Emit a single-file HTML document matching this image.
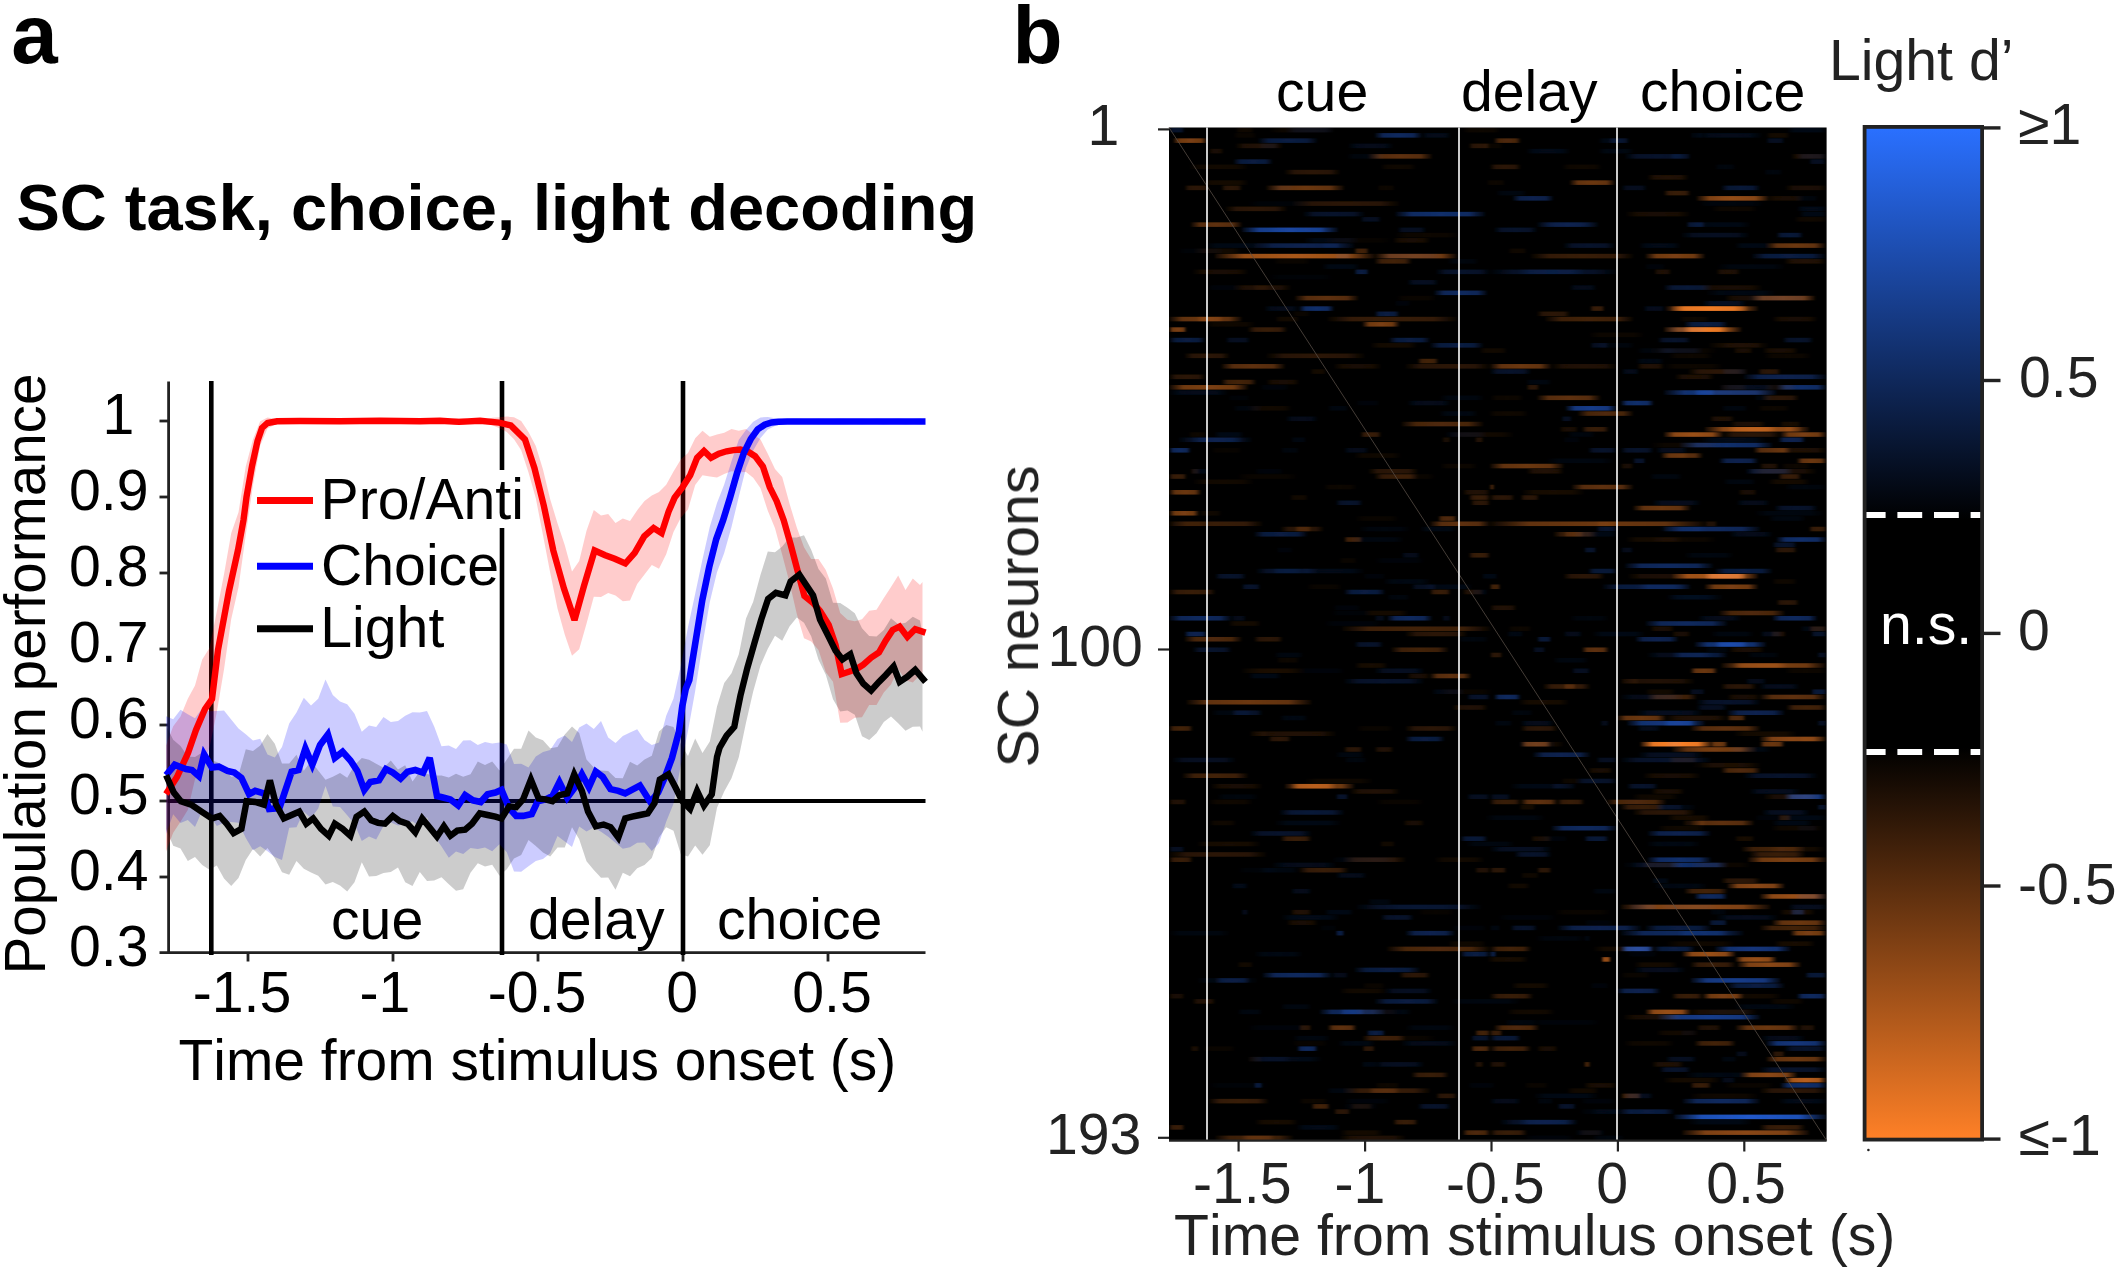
<!DOCTYPE html>
<html><head><meta charset="utf-8"><title>SC task, choice, light decoding</title>
<style>
html,body{margin:0;padding:0;background:#fff;}
body{width:2120px;height:1271px;overflow:hidden;}
svg{display:block;}
text{font-family:"Liberation Sans",Arial,Helvetica,sans-serif;font-kerning:none;}
.b{font-weight:bold;}
.t{font-size:57.2px;}
.g{fill:#222;}
</style></head><body>
<svg width="2120" height="1271" viewBox="0 0 2120 1271">
<rect width="2120" height="1271" fill="#fff"/>

<g id="panelA">
<text class="b" x="11.2" y="63.2" font-size="83.5">a</text>
<text class="b" x="16.4" y="229.5" font-size="65">SC task, choice, light decoding</text>
<g stroke="#222" stroke-width="2.8" fill="none">
<path d="M168.6,381.5V954"/>
<path d="M159.5,952.7H925.5"/>
<path d="M159.5,421H168.6"/>
<path d="M159.5,497H168.6"/>
<path d="M159.5,573H168.6"/>
<path d="M159.5,649H168.6"/>
<path d="M159.5,725H168.6"/>
<path d="M159.5,801H168.6"/>
<path d="M159.5,877H168.6"/>
<path d="M248,952.7V961.5"/>
<path d="M393,952.7V961.5"/>
<path d="M538,952.7V961.5"/>
<path d="M683,952.7V961.5"/>
<path d="M828,952.7V961.5"/>
</g>
<g stroke="#000" fill="none">
<path d="M211.3,381V955" stroke-width="4.6"/>
<path d="M502,381V955" stroke-width="4.6"/>
<path d="M683,381V955" stroke-width="4.6"/>
<path d="M168,801H925.5" stroke-width="4.2"/>
</g>
<path d="M166.0,745.5 L173.2,726.3 L180.5,716.4 L187.8,698.8 L195.0,685.6 L202.2,659.4 L209.5,647.9 L216.8,611.4 L224.0,574.2 L231.2,533.2 L238.5,512.2 L245.8,466.3 L253.0,439.2 L260.2,421.3 L267.5,417.6 L274.8,418.7 L282.0,419.5 L289.2,419.8 L296.5,420.2 L303.8,420.5 L311.0,420.0 L318.2,420.0 L325.5,419.7 L332.8,419.4 L340.0,419.3 L347.2,419.8 L354.5,420.1 L361.8,421.0 L369.0,420.9 L376.2,420.8 L383.5,420.8 L390.8,420.9 L398.0,420.4 L405.2,419.8 L412.5,419.4 L419.8,419.2 L427.0,420.1 L434.2,420.9 L441.5,420.8 L448.8,419.3 L456.0,418.2 L463.2,418.3 L470.5,419.3 L477.8,420.8 L485.0,419.6 L492.2,417.8 L499.5,417.3 L506.8,416.6 L514.0,417.2 L521.2,420.9 L528.5,431.9 L535.8,445.9 L543.0,469.4 L550.2,499.2 L557.5,523.3 L564.8,545.3 L572.0,571.6 L579.2,561.1 L586.5,530.8 L593.8,510.1 L601.0,515.4 L608.2,513.9 L615.5,522.9 L622.8,518.4 L630.0,521.1 L637.2,510.2 L644.5,501.0 L651.8,495.4 L659.0,492.1 L666.2,484.7 L673.5,471.4 L680.8,459.6 L688.0,453.1 L695.2,438.3 L702.5,430.7 L709.8,436.7 L717.0,434.6 L724.2,432.7 L731.5,429.0 L738.8,430.8 L746.0,428.9 L753.2,434.5 L760.5,439.6 L767.8,453.7 L775.0,469.1 L782.2,477.1 L789.5,503.6 L796.8,527.5 L804.0,547.2 L811.2,558.9 L818.5,559.1 L825.8,569.9 L833.0,588.6 L840.2,613.1 L847.5,619.8 L854.8,621.2 L862.0,619.2 L869.2,610.8 L876.5,609.7 L883.8,597.9 L891.0,586.9 L898.2,575.4 L905.5,590.0 L912.8,578.4 L920.0,585.0 L922.5,582.0 L922.5,683.1 L920.0,675.0 L912.8,682.4 L905.5,680.2 L898.2,669.1 L891.0,684.5 L883.8,692.4 L876.5,705.1 L869.2,705.1 L862.0,717.2 L854.8,717.7 L847.5,722.4 L840.2,722.7 L833.0,681.7 L825.8,672.3 L818.5,650.1 L811.2,641.5 L804.0,638.3 L796.8,614.0 L789.5,582.6 L782.2,554.7 L775.0,528.3 L767.8,510.8 L760.5,488.3 L753.2,477.8 L746.0,472.0 L738.8,472.3 L731.5,471.2 L724.2,474.1 L717.0,477.6 L709.8,476.6 L702.5,475.3 L695.2,485.0 L688.0,509.5 L680.8,517.7 L673.5,531.9 L666.2,554.3 L659.0,568.7 L651.8,564.9 L644.5,574.4 L637.2,584.1 L630.0,600.4 L622.8,601.3 L615.5,595.4 L608.2,593.0 L601.0,597.0 L593.8,596.8 L586.5,623.7 L579.2,649.3 L572.0,655.8 L564.8,634.7 L557.5,608.5 L550.2,572.8 L543.0,535.2 L535.8,498.3 L528.5,472.4 L521.2,450.3 L514.0,439.2 L506.8,432.0 L499.5,428.2 L492.2,425.2 L485.0,422.9 L477.8,420.8 L470.5,423.4 L463.2,424.6 L456.0,425.0 L448.8,423.4 L441.5,420.8 L434.2,420.9 L427.0,422.3 L419.8,423.2 L412.5,422.9 L405.2,422.5 L398.0,421.6 L390.8,420.9 L383.5,420.8 L376.2,420.8 L369.0,420.9 L361.8,421.0 L354.5,422.0 L347.2,422.5 L340.0,423.0 L332.8,422.7 L325.5,422.6 L318.2,422.2 L311.0,422.0 L303.8,421.5 L296.5,421.9 L289.2,422.4 L282.0,423.1 L274.8,424.7 L267.5,428.4 L260.2,445.5 L253.0,484.9 L245.8,534.8 L238.5,587.3 L231.2,619.2 L224.0,669.4 L216.8,712.3 L209.5,747.8 L202.2,766.4 L195.0,779.3 L187.8,810.0 L180.5,821.7 L173.2,832.8 L166.0,851.6Z" fill="#ff0000" fill-opacity="0.2"/>
<path d="M166.0,716.3 L173.2,719.2 L180.5,709.7 L187.8,714.2 L195.0,718.2 L202.2,708.2 L209.5,711.3 L216.8,711.0 L224.0,710.4 L231.2,719.5 L238.5,728.5 L245.8,734.3 L253.0,740.4 L260.2,738.8 L267.5,754.4 L274.8,757.5 L282.0,747.0 L289.2,723.4 L296.5,712.4 L303.8,697.8 L311.0,705.4 L318.2,698.7 L325.5,679.4 L332.8,695.0 L340.0,701.5 L347.2,704.3 L354.5,713.7 L361.8,731.7 L369.0,725.5 L376.2,726.9 L383.5,717.1 L390.8,722.1 L398.0,721.0 L405.2,715.7 L412.5,712.3 L419.8,712.6 L427.0,710.9 L434.2,726.6 L441.5,746.3 L448.8,745.6 L456.0,749.0 L463.2,740.6 L470.5,740.3 L477.8,745.0 L485.0,742.0 L492.2,743.5 L499.5,742.6 L506.8,744.6 L514.0,764.0 L521.2,763.7 L528.5,767.6 L535.8,756.5 L543.0,752.1 L550.2,750.0 L557.5,738.9 L564.8,735.6 L572.0,742.1 L579.2,727.6 L586.5,723.4 L593.8,729.1 L601.0,721.1 L608.2,737.4 L615.5,743.0 L622.8,735.9 L630.0,732.5 L637.2,729.2 L644.5,740.0 L651.8,745.0 L659.0,742.4 L666.2,715.7 L673.5,698.4 L680.8,665.7 L688.0,627.1 L695.2,593.7 L702.5,559.2 L709.8,526.7 L717.0,503.1 L724.2,484.6 L731.5,461.3 L738.8,439.7 L746.0,429.9 L753.2,421.8 L760.5,417.4 L767.8,417.1 L775.0,418.2 L782.2,419.0 L789.5,418.8 L796.8,418.6 L804.0,419.0 L811.2,418.9 L818.5,418.8 L825.8,418.9 L833.0,419.0 L840.2,418.5 L847.5,418.8 L854.8,418.7 L862.0,418.8 L869.2,419.0 L876.5,418.6 L883.8,418.8 L891.0,418.7 L898.2,418.5 L905.5,419.1 L912.8,419.0 L920.0,418.5 L922.5,419.1 L922.5,424.2 L920.0,424.3 L912.8,424.1 L905.5,424.4 L898.2,424.1 L891.0,424.1 L883.8,424.5 L876.5,424.1 L869.2,424.0 L862.0,424.2 L854.8,423.9 L847.5,424.2 L840.2,424.4 L833.0,424.5 L825.8,424.3 L818.5,424.2 L811.2,424.0 L804.0,424.0 L796.8,424.1 L789.5,424.0 L782.2,424.3 L775.0,426.0 L767.8,429.6 L760.5,437.9 L753.2,450.4 L746.0,468.1 L738.8,496.7 L731.5,527.1 L724.2,552.9 L717.0,572.3 L709.8,602.1 L702.5,644.7 L695.2,690.9 L688.0,730.9 L680.8,765.3 L673.5,803.7 L666.2,821.8 L659.0,843.0 L651.8,851.1 L644.5,842.5 L637.2,842.8 L630.0,847.3 L622.8,848.7 L615.5,842.7 L608.2,836.7 L601.0,831.8 L593.8,827.4 L586.5,831.5 L579.2,826.6 L572.0,846.9 L564.8,841.6 L557.5,836.0 L550.2,853.2 L543.0,859.0 L535.8,860.9 L528.5,866.2 L521.2,871.8 L514.0,871.5 L506.8,852.3 L499.5,844.2 L492.2,851.2 L485.0,847.4 L477.8,848.9 L470.5,848.0 L463.2,854.0 L456.0,851.6 L448.8,857.7 L441.5,846.6 L434.2,835.9 L427.0,817.1 L419.8,827.2 L412.5,821.2 L405.2,824.1 L398.0,825.5 L390.8,822.4 L383.5,825.9 L376.2,839.4 L369.0,836.4 L361.8,841.0 L354.5,823.9 L347.2,815.2 L340.0,807.0 L332.8,806.4 L325.5,785.9 L318.2,808.4 L311.0,818.3 L303.8,811.5 L296.5,827.3 L289.2,827.8 L282.0,859.9 L274.8,857.1 L267.5,851.3 L260.2,846.3 L253.0,850.2 L245.8,837.9 L238.5,822.7 L231.2,821.9 L224.0,822.7 L216.8,826.1 L209.5,815.0 L202.2,810.7 L195.0,827.1 L187.8,819.9 L180.5,823.0 L173.2,814.3 L166.0,834.0Z" fill="#0000ff" fill-opacity="0.2"/>
<path d="M166.0,725.5 L173.2,739.7 L180.5,746.0 L187.8,756.5 L195.0,757.1 L202.2,752.6 L209.5,759.5 L216.8,761.9 L224.0,765.9 L231.2,776.7 L238.5,775.3 L245.8,749.2 L253.0,751.1 L260.2,745.6 L267.5,734.1 L274.8,743.7 L282.0,763.5 L289.2,763.6 L296.5,754.8 L303.8,770.8 L311.0,761.1 L318.2,770.5 L325.5,779.8 L332.8,776.7 L340.0,773.0 L347.2,777.7 L354.5,765.3 L361.8,757.9 L369.0,759.7 L376.2,763.8 L383.5,767.7 L390.8,760.6 L398.0,769.4 L405.2,765.3 L412.5,781.4 L419.8,771.4 L427.0,773.9 L434.2,775.6 L441.5,775.4 L448.8,777.6 L456.0,773.7 L463.2,776.8 L470.5,774.3 L477.8,761.6 L485.0,765.1 L492.2,761.4 L499.5,770.6 L506.8,759.4 L514.0,748.7 L521.2,748.8 L528.5,730.6 L535.8,737.4 L543.0,740.3 L550.2,748.3 L557.5,746.9 L564.8,734.6 L572.0,726.6 L579.2,733.0 L586.5,759.4 L593.8,767.6 L601.0,770.4 L608.2,770.9 L615.5,778.1 L622.8,778.2 L630.0,761.8 L637.2,765.6 L644.5,759.6 L651.8,755.7 L659.0,731.6 L666.2,725.1 L673.5,727.1 L680.8,744.0 L688.0,756.1 L695.2,738.5 L702.5,753.1 L709.8,741.4 L717.0,706.4 L724.2,682.9 L731.5,673.3 L738.8,654.5 L746.0,618.6 L753.2,601.8 L760.5,574.8 L767.8,551.5 L775.0,552.3 L782.2,546.6 L789.5,537.5 L796.8,537.5 L804.0,535.2 L811.2,549.8 L818.5,568.9 L825.8,578.6 L833.0,602.8 L840.2,602.9 L847.5,607.7 L854.8,613.2 L862.0,628.2 L869.2,636.1 L876.5,636.5 L883.8,630.0 L891.0,618.3 L898.2,624.3 L905.5,622.7 L912.8,616.8 L920.0,620.4 L922.5,633.9 L922.5,731.7 L920.0,726.6 L912.8,726.8 L905.5,730.7 L898.2,723.3 L891.0,716.6 L883.8,722.1 L876.5,733.3 L869.2,740.0 L862.0,736.3 L854.8,714.7 L847.5,710.6 L840.2,711.6 L833.0,699.3 L825.8,674.7 L818.5,659.7 L811.2,636.2 L804.0,622.8 L796.8,617.4 L789.5,626.5 L782.2,640.7 L775.0,635.7 L767.8,648.8 L760.5,665.5 L753.2,691.5 L746.0,722.8 L738.8,757.3 L731.5,778.2 L724.2,791.4 L717.0,807.7 L709.8,845.3 L702.5,854.7 L695.2,845.5 L688.0,856.6 L680.8,854.3 L673.5,830.8 L666.2,827.2 L659.0,837.5 L651.8,858.0 L644.5,864.9 L637.2,868.2 L630.0,876.3 L622.8,872.7 L615.5,889.8 L608.2,877.5 L601.0,877.8 L593.8,870.0 L586.5,861.2 L579.2,839.3 L572.0,827.2 L564.8,847.4 L557.5,847.4 L550.2,856.6 L543.0,852.4 L535.8,846.1 L528.5,840.0 L521.2,855.0 L514.0,858.6 L506.8,869.3 L499.5,875.8 L492.2,864.8 L485.0,866.4 L477.8,863.2 L470.5,872.7 L463.2,889.3 L456.0,890.7 L448.8,884.3 L441.5,877.2 L434.2,880.5 L427.0,880.9 L419.8,872.1 L412.5,886.1 L405.2,882.3 L398.0,867.4 L390.8,872.0 L383.5,872.9 L376.2,876.1 L369.0,876.5 L361.8,862.2 L354.5,882.3 L347.2,891.5 L340.0,885.4 L332.8,882.0 L325.5,884.5 L318.2,875.8 L311.0,872.5 L303.8,868.8 L296.5,860.9 L289.2,874.8 L282.0,872.3 L274.8,858.2 L267.5,848.1 L260.2,856.4 L253.0,849.0 L245.8,860.1 L238.5,878.0 L231.2,886.1 L224.0,878.6 L216.8,865.6 L209.5,869.8 L202.2,864.9 L195.0,857.0 L187.8,861.0 L180.5,848.5 L173.2,845.8 L166.0,828.9Z" fill="#000" fill-opacity="0.2"/>
<path d="M166.0,794.0 L177.0,777.0 L188.0,753.0 L196.0,730.0 L205.0,709.0 L212.0,699.0 L218.0,650.0 L229.0,591.0 L238.0,550.0 L243.5,520.0 L246.5,497.0 L252.0,466.0 L257.5,441.0 L262.0,428.0 L267.5,423.0 L277.0,421.3 L300.0,421.0 L340.0,421.2 L380.0,420.8 L420.0,421.3 L440.0,420.7 L458.9,421.9 L480.1,420.7 L499.0,422.6 L510.8,425.4 L525.0,439.6 L534.4,467.9 L543.8,505.6 L553.3,550.5 L563.9,588.3 L574.5,620.1 L584.0,585.9 L594.6,550.5 L605.2,555.2 L614.7,558.8 L625.3,563.5 L634.7,552.9 L644.2,536.3 L653.6,528.1 L661.6,533.2 L668.6,511.6 L674.6,497.7 L682.4,487.3 L690.2,475.2 L697.1,457.9 L704.0,451.0 L711.0,457.9 L718.8,453.6 L726.6,451.3 L733.5,450.1 L740.4,449.6 L748.2,451.8 L755.1,456.2 L762.9,466.6 L769.8,487.3 L776.7,501.2 L783.7,520.2 L790.6,544.4 L797.5,570.4 L804.4,596.0 L813.1,603.0 L820.0,611.0 L828.7,625.0 L835.6,645.0 L841.7,674.2 L849.5,671.6 L856.4,669.0 L863.3,664.6 L871.1,657.7 L878.9,652.5 L885.8,640.4 L892.7,630.0 L899.6,626.6 L907.4,636.9 L915.2,629.1 L925.5,632.6" fill="none" stroke="#f00" stroke-width="6.4" stroke-linejoin="miter" stroke-miterlimit="3"/>
<path d="M166.1,775.2 L174.7,764.8 L186.0,769.1 L192.0,770.0 L198.9,776.1 L204.1,754.4 L211.9,767.4 L218.9,766.6 L227.5,770.9 L234.4,772.6 L241.4,777.8 L249.1,794.2 L255.2,790.8 L263.9,793.4 L269.1,809.0 L279.4,808.1 L291.6,771.7 L298.5,770.0 L305.4,748.4 L312.3,764.8 L320.1,744.9 L327.9,734.5 L334.8,757.9 L342.6,751.8 L350.4,760.5 L357.3,770.9 L364.3,789.9 L370.3,782.1 L379.0,780.4 L385.9,769.1 L392.8,772.6 L400.6,778.7 L407.5,771.7 L415.3,770.0 L423.1,772.6 L429.7,757.9 L437.0,796.0 L443.9,797.7 L450.4,799.4 L458.2,805.5 L465.1,795.1 L472.9,800.3 L480.7,802.0 L487.6,794.2 L495.4,792.5 L501.5,789.9 L509.2,808.1 L516.2,815.9 L523.1,815.9 L531.7,814.1 L537.8,801.2 L545.6,799.4 L552.5,796.0 L559.4,782.1 L567.2,797.7 L575.0,787.3 L581.9,774.3 L588.9,787.3 L595.8,771.7 L602.7,776.9 L610.5,789.1 L618.3,790.8 L625.2,793.4 L639.9,785.6 L650.3,802.0 L658.1,792.5 L665.0,776.9 L672.0,757.9 L678.9,731.9 L682.3,706.0 L685.8,688.7 L689.3,680.0 L702.3,600.0 L709.2,567.0 L716.2,539.3 L723.1,520.2 L730.0,497.7 L736.9,473.5 L743.9,452.7 L750.8,438.9 L757.7,429.3 L764.6,424.7 L771.6,422.4 L778.5,421.7 L787.1,421.5 L925.5,421.5" fill="none" stroke="#00f" stroke-width="6.6" stroke-linejoin="miter" stroke-miterlimit="3"/>
<path d="M166.1,775.2 L173.8,792.5 L180.8,801.2 L191.2,804.6 L201.5,811.6 L211.9,818.5 L219.7,815.9 L226.6,823.7 L233.6,833.2 L241.4,828.9 L246.6,801.2 L255.2,802.0 L263.9,804.6 L269.9,780.4 L276.0,804.6 L283.8,818.5 L291.6,815.0 L299.3,811.6 L306.3,823.7 L313.2,818.5 L321.0,828.9 L328.8,835.8 L334.8,823.7 L342.6,828.9 L350.4,835.8 L356.5,816.7 L364.3,811.6 L371.2,820.2 L378.1,822.8 L385.0,823.7 L392.8,815.9 L399.7,821.1 L407.5,823.7 L415.3,832.3 L422.2,818.5 L429.2,827.1 L437.0,836.7 L443.9,826.3 L450.4,835.8 L457.3,830.6 L465.1,829.7 L472.0,823.7 L479.8,813.3 L487.6,815.0 L495.4,816.7 L501.5,818.5 L509.2,806.4 L516.2,807.2 L523.1,799.4 L530.9,779.5 L538.7,798.6 L545.6,799.4 L552.5,801.2 L559.4,795.1 L567.2,793.4 L574.2,774.3 L581.9,790.8 L588.0,811.6 L595.8,826.3 L603.6,824.5 L610.5,827.1 L618.3,837.5 L625.2,818.5 L632.1,816.7 L639.9,815.0 L647.7,813.3 L654.6,802.9 L659.8,779.5 L668.5,774.3 L675.4,787.3 L682.3,801.2 L690.1,809.0 L697.1,790.8 L704.0,805.5 L711.8,794.2 L717.0,757.0 L719.6,747.7 L726.6,735.6 L734.3,726.9 L736.9,713.1 L740.4,695.8 L747.3,668.1 L754.2,643.9 L761.2,619.6 L768.1,598.9 L775.9,592.8 L785.4,595.4 L790.6,581.5 L799.3,574.6 L806.2,585.0 L813.1,595.4 L820.0,619.6 L828.7,636.9 L835.6,650.8 L842.5,659.4 L850.3,654.2 L856.4,673.3 L863.3,683.7 L871.1,690.6 L878.9,681.9 L885.8,675.0 L893.6,666.4 L899.6,681.9 L907.4,676.7 L915.2,669.8 L925.5,681.9" fill="none" stroke="#000" stroke-width="6.4" stroke-linejoin="miter" stroke-miterlimit="3"/>
<rect x="318" y="470" width="208" height="58" fill="#fff"/>
<path d="M257,500.6H313" stroke="#f00" stroke-width="7"/>
<path d="M257,566.3H313" stroke="#00f" stroke-width="7"/>
<path d="M257,628.8H313" stroke="#000" stroke-width="7"/>
<text class="t" x="320.5" y="519.2">Pro/Anti</text>
<text class="t" x="321" y="584.7">Choice</text>
<text class="t" x="320.3" y="646.6">Light</text>
<text class="t" x="102.5" y="434">1</text>
<text class="t" x="69" y="510.2">0.9</text>
<text class="t" x="69" y="586.2">0.8</text>
<text class="t" x="69" y="662.2">0.7</text>
<text class="t" x="69" y="738.2">0.6</text>
<text class="t" x="69" y="814.2">0.5</text>
<text class="t" x="69" y="890.2">0.4</text>
<text class="t" x="69" y="966">0.3</text>
<text class="t" x="192.7" y="1012.4">-1.5</text>
<text class="t" x="359.5" y="1012.4">-1</text>
<text class="t" x="487.8" y="1012.4">-0.5</text>
<text class="t" x="666.2" y="1012.4">0</text>
<text class="t" x="792.3" y="1012.4">0.5</text>
<text class="t" x="331" y="939">cue</text>
<text class="t" x="528" y="939">delay</text>
<text class="t" x="717" y="939">choice</text>
<text class="t" x="178.6" y="1079.6" style="font-size:56.9px">Time from stimulus onset (s)</text>
<text class="t" style="font-size:56.6px" transform="translate(45.3,974.5) rotate(-90)">Population performance</text>
</g>
<g id="panelB">
<text class="b" x="1012.5" y="62.5" font-size="82">b</text>
<rect x="1169" y="127.5" width="657.5999999999999" height="1013.0" fill="#000"/>
<defs>
<clipPath id="hmclip"><rect x="1169" y="127.5" width="657.6" height="1013"/></clipPath>
<linearGradient id="sb" x1="0" y1="0" x2="1" y2="0"><stop offset="0" stop-color="#2a70ff" stop-opacity="0.1"/><stop offset="0.18" stop-color="#2a70ff" stop-opacity="0.9"/><stop offset="0.5" stop-color="#2a70ff"/><stop offset="0.82" stop-color="#2a70ff" stop-opacity="0.9"/><stop offset="1" stop-color="#2a70ff" stop-opacity="0.1"/></linearGradient>
<linearGradient id="so" x1="0" y1="0" x2="1" y2="0"><stop offset="0" stop-color="#ff8428" stop-opacity="0.1"/><stop offset="0.18" stop-color="#ff8428" stop-opacity="0.9"/><stop offset="0.5" stop-color="#ff8428"/><stop offset="0.82" stop-color="#ff8428" stop-opacity="0.9"/><stop offset="1" stop-color="#ff8428" stop-opacity="0.1"/></linearGradient>
</defs>
<filter id="sblur" x="-2%" y="-2%" width="104%" height="104%"><feGaussianBlur stdDeviation="1.1 0.6"/></filter><g id="streaks" filter="url(#sblur)" clip-path="url(#hmclip)">
<rect x="1169.2" y="127.85" width="15.3" height="4.55" fill="url(#sb)" opacity="0.17"/>
<rect x="1173.3" y="138.35" width="33.8" height="4.55" fill="url(#so)" opacity="0.48"/>
<rect x="1235.7" y="127.85" width="18.4" height="4.55" fill="url(#so)" opacity="0.06"/>
<rect x="1286.8" y="127.85" width="47.1" height="4.55" fill="url(#sb)" opacity="0.10"/>
<rect x="1258.2" y="138.35" width="59.3" height="4.55" fill="url(#sb)" opacity="0.26"/>
<rect x="1374.8" y="133.10" width="47.1" height="4.55" fill="url(#sb)" opacity="0.37"/>
<rect x="1421.9" y="133.10" width="28.6" height="4.55" fill="url(#sb)" opacity="0.10"/>
<rect x="1235.7" y="143.60" width="47.1" height="4.55" fill="url(#so)" opacity="0.13"/>
<rect x="1348.2" y="143.60" width="45.0" height="4.55" fill="url(#sb)" opacity="0.10"/>
<rect x="1468.9" y="143.60" width="21.1" height="4.55" fill="url(#so)" opacity="0.17"/>
<rect x="1209.1" y="148.84" width="14.3" height="4.55" fill="url(#so)" opacity="0.10"/>
<rect x="1368.7" y="154.09" width="63.4" height="4.55" fill="url(#so)" opacity="0.37"/>
<rect x="1233.6" y="159.34" width="38.9" height="4.55" fill="url(#sb)" opacity="0.26"/>
<rect x="1380.9" y="164.59" width="34.8" height="4.55" fill="url(#so)" opacity="0.06"/>
<rect x="1284.8" y="169.84" width="55.2" height="4.55" fill="url(#so)" opacity="0.17"/>
<rect x="1184.5" y="185.59" width="24.5" height="4.55" fill="url(#so)" opacity="0.17"/>
<rect x="1221.4" y="185.59" width="20.5" height="4.55" fill="url(#so)" opacity="0.17"/>
<rect x="1266.4" y="185.59" width="77.7" height="4.55" fill="url(#so)" opacity="0.42"/>
<rect x="1293.0" y="201.33" width="106.4" height="4.55" fill="url(#so)" opacity="0.17"/>
<rect x="1225.5" y="206.58" width="61.4" height="4.55" fill="url(#so)" opacity="0.17"/>
<rect x="1303.2" y="211.83" width="61.4" height="4.55" fill="url(#sb)" opacity="0.17"/>
<rect x="1395.3" y="211.83" width="90.0" height="4.55" fill="url(#sb)" opacity="0.42"/>
<rect x="1360.5" y="217.08" width="20.5" height="4.55" fill="url(#sb)" opacity="0.13"/>
<rect x="1190.7" y="222.33" width="51.1" height="4.55" fill="url(#so)" opacity="0.37"/>
<rect x="1241.8" y="227.58" width="96.2" height="4.55" fill="url(#sb)" opacity="0.60"/>
<rect x="1397.3" y="227.58" width="28.6" height="4.55" fill="url(#sb)" opacity="0.13"/>
<rect x="1393.2" y="238.07" width="36.8" height="4.55" fill="url(#so)" opacity="0.10"/>
<rect x="1254.1" y="243.32" width="100.2" height="4.55" fill="url(#sb)" opacity="0.31"/>
<rect x="1215.2" y="253.82" width="159.6" height="4.55" fill="url(#so)" opacity="0.66"/>
<rect x="1374.8" y="253.82" width="81.8" height="4.55" fill="url(#so)" opacity="0.48"/>
<rect x="1354.4" y="248.57" width="14.3" height="4.55" fill="url(#so)" opacity="0.26"/>
<rect x="1374.8" y="259.07" width="36.8" height="4.55" fill="url(#so)" opacity="0.26"/>
<rect x="1192.7" y="269.57" width="55.2" height="4.55" fill="url(#so)" opacity="0.10"/>
<rect x="1354.4" y="269.57" width="14.3" height="4.55" fill="url(#sb)" opacity="0.26"/>
<rect x="1436.2" y="269.57" width="53.8" height="4.55" fill="url(#sb)" opacity="0.17"/>
<rect x="1407.5" y="280.06" width="30.7" height="4.55" fill="url(#sb)" opacity="0.13"/>
<rect x="1233.6" y="285.31" width="57.3" height="4.55" fill="url(#so)" opacity="0.13"/>
<rect x="1434.1" y="290.56" width="53.2" height="4.55" fill="url(#sb)" opacity="0.37"/>
<rect x="1295.0" y="295.81" width="63.4" height="4.55" fill="url(#so)" opacity="0.37"/>
<rect x="1299.1" y="306.31" width="34.8" height="4.55" fill="url(#sb)" opacity="0.42"/>
<rect x="1264.3" y="306.31" width="34.8" height="4.55" fill="url(#sb)" opacity="0.10"/>
<rect x="1169.2" y="316.80" width="72.6" height="4.55" fill="url(#so)" opacity="0.42"/>
<rect x="1196.8" y="316.80" width="26.6" height="4.55" fill="url(#so)" opacity="0.17"/>
<rect x="1327.8" y="316.80" width="128.9" height="4.55" fill="url(#so)" opacity="0.22"/>
<rect x="1374.8" y="311.55" width="24.5" height="4.55" fill="url(#sb)" opacity="0.26"/>
<rect x="1362.5" y="322.05" width="36.8" height="4.55" fill="url(#so)" opacity="0.48"/>
<rect x="1169.2" y="327.30" width="17.4" height="4.55" fill="url(#so)" opacity="0.48"/>
<rect x="1248.0" y="327.30" width="38.9" height="4.55" fill="url(#so)" opacity="0.22"/>
<rect x="1169.2" y="337.80" width="35.8" height="4.55" fill="url(#sb)" opacity="0.26"/>
<rect x="1225.5" y="337.80" width="24.5" height="4.55" fill="url(#sb)" opacity="0.13"/>
<rect x="1389.1" y="337.80" width="40.9" height="4.55" fill="url(#sb)" opacity="0.26"/>
<rect x="1430.0" y="343.05" width="53.2" height="4.55" fill="url(#sb)" opacity="0.26"/>
<rect x="1184.5" y="353.54" width="45.0" height="4.55" fill="url(#so)" opacity="0.17"/>
<rect x="1266.4" y="353.54" width="98.2" height="4.55" fill="url(#so)" opacity="0.17"/>
<rect x="1221.4" y="364.04" width="63.4" height="4.55" fill="url(#so)" opacity="0.37"/>
<rect x="1333.9" y="364.04" width="47.1" height="4.55" fill="url(#so)" opacity="0.10"/>
<rect x="1405.5" y="364.04" width="84.5" height="4.55" fill="url(#so)" opacity="0.17"/>
<rect x="1417.8" y="358.79" width="20.5" height="4.55" fill="url(#so)" opacity="0.26"/>
<rect x="1169.2" y="374.54" width="35.8" height="4.55" fill="url(#so)" opacity="0.17"/>
<rect x="1494.1" y="138.35" width="26.6" height="4.55" fill="url(#so)" opacity="0.31"/>
<rect x="1608.7" y="138.35" width="20.5" height="4.55" fill="url(#sb)" opacity="0.13"/>
<rect x="1766.2" y="138.35" width="18.4" height="4.55" fill="url(#sb)" opacity="0.13"/>
<rect x="1690.5" y="133.10" width="12.3" height="4.55" fill="url(#sb)" opacity="0.06"/>
<rect x="1625.0" y="154.09" width="65.5" height="4.55" fill="url(#sb)" opacity="0.17"/>
<rect x="1670.0" y="154.09" width="20.5" height="4.55" fill="url(#sb)" opacity="0.10"/>
<rect x="1809.1" y="159.34" width="16.4" height="4.55" fill="url(#sb)" opacity="0.13"/>
<rect x="1490.0" y="164.59" width="30.7" height="4.55" fill="url(#so)" opacity="0.17"/>
<rect x="1715.0" y="164.59" width="20.5" height="4.55" fill="url(#sb)" opacity="0.05"/>
<rect x="1647.5" y="175.09" width="40.9" height="4.55" fill="url(#so)" opacity="0.13"/>
<rect x="1569.8" y="180.34" width="45.0" height="4.55" fill="url(#so)" opacity="0.42"/>
<rect x="1721.2" y="185.59" width="38.9" height="4.55" fill="url(#sb)" opacity="0.22"/>
<rect x="1663.9" y="190.83" width="26.6" height="4.55" fill="url(#so)" opacity="0.22"/>
<rect x="1512.5" y="196.08" width="40.9" height="4.55" fill="url(#sb)" opacity="0.31"/>
<rect x="1496.1" y="190.83" width="30.7" height="4.55" fill="url(#sb)" opacity="0.06"/>
<rect x="1696.6" y="196.08" width="71.6" height="4.55" fill="url(#so)" opacity="0.54"/>
<rect x="1768.2" y="196.08" width="34.8" height="4.55" fill="url(#so)" opacity="0.10"/>
<rect x="1494.1" y="227.58" width="43.0" height="4.55" fill="url(#sb)" opacity="0.17"/>
<rect x="1537.1" y="222.33" width="61.4" height="4.55" fill="url(#sb)" opacity="0.26"/>
<rect x="1686.4" y="222.33" width="18.4" height="4.55" fill="url(#sb)" opacity="0.22"/>
<rect x="1776.4" y="232.82" width="26.6" height="4.55" fill="url(#sb)" opacity="0.22"/>
<rect x="1563.6" y="243.32" width="51.1" height="4.55" fill="url(#sb)" opacity="0.17"/>
<rect x="1766.2" y="243.32" width="59.3" height="4.55" fill="url(#so)" opacity="0.42"/>
<rect x="1508.4" y="248.57" width="18.4" height="4.55" fill="url(#so)" opacity="0.06"/>
<rect x="1530.9" y="253.82" width="102.3" height="4.55" fill="url(#so)" opacity="0.22"/>
<rect x="1645.5" y="253.82" width="59.3" height="4.55" fill="url(#so)" opacity="0.48"/>
<rect x="1751.9" y="253.82" width="73.6" height="4.55" fill="url(#sb)" opacity="0.26"/>
<rect x="1784.6" y="259.07" width="40.9" height="4.55" fill="url(#so)" opacity="0.13"/>
<rect x="1490.0" y="269.57" width="126.8" height="4.55" fill="url(#sb)" opacity="0.17"/>
<rect x="1518.6" y="269.57" width="65.5" height="4.55" fill="url(#sb)" opacity="0.13"/>
<rect x="1569.8" y="285.31" width="26.6" height="4.55" fill="url(#sb)" opacity="0.10"/>
<rect x="1663.9" y="285.31" width="47.1" height="4.55" fill="url(#sb)" opacity="0.22"/>
<rect x="1751.9" y="295.81" width="63.4" height="4.55" fill="url(#so)" opacity="0.48"/>
<rect x="1702.8" y="301.06" width="43.0" height="4.55" fill="url(#sb)" opacity="0.13"/>
<rect x="1665.9" y="306.31" width="92.1" height="4.55" fill="url(#so)" opacity="0.60"/>
<rect x="1671.1" y="306.31" width="76.7" height="4.55" fill="url(#so)" opacity="0.86"/>
<rect x="1590.2" y="306.31" width="14.3" height="4.55" fill="url(#so)" opacity="0.22"/>
<rect x="1537.1" y="311.55" width="32.7" height="4.55" fill="url(#so)" opacity="0.17"/>
<rect x="1545.2" y="316.80" width="88.0" height="4.55" fill="url(#so)" opacity="0.26"/>
<rect x="1772.3" y="316.80" width="45.0" height="4.55" fill="url(#so)" opacity="0.10"/>
<rect x="1684.4" y="322.05" width="43.0" height="4.55" fill="url(#sb)" opacity="0.26"/>
<rect x="1663.9" y="327.30" width="77.7" height="4.55" fill="url(#so)" opacity="0.60"/>
<rect x="1683.3" y="327.30" width="44.0" height="4.55" fill="url(#so)" opacity="0.86"/>
<rect x="1657.8" y="337.80" width="32.7" height="4.55" fill="url(#sb)" opacity="0.17"/>
<rect x="1782.6" y="337.80" width="30.7" height="4.55" fill="url(#sb)" opacity="0.17"/>
<rect x="1590.2" y="343.05" width="18.4" height="4.55" fill="url(#sb)" opacity="0.13"/>
<rect x="1721.2" y="343.05" width="40.9" height="4.55" fill="url(#so)" opacity="0.05"/>
<rect x="1764.1" y="353.54" width="47.1" height="4.55" fill="url(#so)" opacity="0.05"/>
<rect x="1490.0" y="364.04" width="61.4" height="4.55" fill="url(#so)" opacity="0.42"/>
<rect x="1551.4" y="364.04" width="65.5" height="4.55" fill="url(#so)" opacity="0.13"/>
<rect x="1637.3" y="364.04" width="26.6" height="4.55" fill="url(#so)" opacity="0.13"/>
<rect x="1688.4" y="369.29" width="59.3" height="4.55" fill="url(#so)" opacity="0.17"/>
<rect x="1758.0" y="369.29" width="22.5" height="4.55" fill="url(#so)" opacity="0.17"/>
<rect x="1743.7" y="374.54" width="82.9" height="4.55" fill="url(#sb)" opacity="0.31"/>
<rect x="1490.0" y="369.29" width="40.9" height="4.55" fill="url(#sb)" opacity="0.17"/>
<rect x="1221.4" y="379.79" width="34.8" height="4.55" fill="url(#so)" opacity="0.26"/>
<rect x="1266.4" y="379.79" width="32.7" height="4.55" fill="url(#so)" opacity="0.10"/>
<rect x="1169.2" y="385.04" width="78.8" height="4.55" fill="url(#so)" opacity="0.48"/>
<rect x="1169.2" y="390.29" width="58.3" height="4.55" fill="url(#sb)" opacity="0.10"/>
<rect x="1407.5" y="400.78" width="43.0" height="4.55" fill="url(#sb)" opacity="0.10"/>
<rect x="1327.8" y="406.03" width="20.5" height="4.55" fill="url(#sb)" opacity="0.06"/>
<rect x="1285.8" y="416.53" width="31.7" height="4.55" fill="url(#sb)" opacity="0.10"/>
<rect x="1401.4" y="421.78" width="81.8" height="4.55" fill="url(#so)" opacity="0.31"/>
<rect x="1360.5" y="432.27" width="20.5" height="4.55" fill="url(#so)" opacity="0.22"/>
<rect x="1178.4" y="437.52" width="73.6" height="4.55" fill="url(#sb)" opacity="0.17"/>
<rect x="1191.7" y="437.52" width="50.1" height="4.55" fill="url(#sb)" opacity="0.17"/>
<rect x="1442.3" y="437.52" width="8.2" height="4.55" fill="url(#so)" opacity="0.10"/>
<rect x="1475.1" y="437.52" width="8.2" height="4.55" fill="url(#so)" opacity="0.13"/>
<rect x="1169.2" y="448.02" width="21.5" height="4.55" fill="url(#sb)" opacity="0.37"/>
<rect x="1280.7" y="448.02" width="18.4" height="4.55" fill="url(#sb)" opacity="0.05"/>
<rect x="1344.1" y="448.02" width="24.5" height="4.55" fill="url(#sb)" opacity="0.10"/>
<rect x="1368.7" y="469.02" width="49.1" height="4.55" fill="url(#so)" opacity="0.17"/>
<rect x="1374.8" y="474.26" width="43.0" height="4.55" fill="url(#so)" opacity="0.22"/>
<rect x="1169.2" y="474.26" width="17.4" height="4.55" fill="url(#so)" opacity="0.22"/>
<rect x="1190.7" y="469.02" width="8.2" height="4.55" fill="url(#so)" opacity="0.10"/>
<rect x="1323.7" y="484.76" width="32.7" height="4.55" fill="url(#so)" opacity="0.05"/>
<rect x="1169.2" y="490.01" width="31.7" height="4.55" fill="url(#so)" opacity="0.42"/>
<rect x="1462.8" y="490.01" width="27.2" height="4.55" fill="url(#so)" opacity="0.13"/>
<rect x="1468.9" y="495.26" width="21.1" height="4.55" fill="url(#so)" opacity="0.22"/>
<rect x="1471.0" y="500.51" width="19.0" height="4.55" fill="url(#so)" opacity="0.17"/>
<rect x="1335.9" y="500.51" width="26.6" height="4.55" fill="url(#sb)" opacity="0.17"/>
<rect x="1169.2" y="511.01" width="29.7" height="4.55" fill="url(#so)" opacity="0.48"/>
<rect x="1198.9" y="511.01" width="22.5" height="4.55" fill="url(#so)" opacity="0.06"/>
<rect x="1438.2" y="516.25" width="18.4" height="4.55" fill="url(#so)" opacity="0.31"/>
<rect x="1169.2" y="521.50" width="93.1" height="4.55" fill="url(#so)" opacity="0.22"/>
<rect x="1169.2" y="521.50" width="35.8" height="4.55" fill="url(#so)" opacity="0.06"/>
<rect x="1430.0" y="521.50" width="59.9" height="4.55" fill="url(#so)" opacity="0.37"/>
<rect x="1280.7" y="526.75" width="43.0" height="4.55" fill="url(#so)" opacity="0.17"/>
<rect x="1295.0" y="526.75" width="16.4" height="4.55" fill="url(#so)" opacity="0.17"/>
<rect x="1254.1" y="532.00" width="53.2" height="4.55" fill="url(#sb)" opacity="0.26"/>
<rect x="1344.1" y="537.25" width="18.4" height="4.55" fill="url(#so)" opacity="0.26"/>
<rect x="1276.6" y="547.75" width="16.4" height="4.55" fill="url(#sb)" opacity="0.04"/>
<rect x="1401.4" y="553.00" width="18.4" height="4.55" fill="url(#sb)" opacity="0.10"/>
<rect x="1468.9" y="553.00" width="21.1" height="4.55" fill="url(#so)" opacity="0.22"/>
<rect x="1256.2" y="568.74" width="61.4" height="4.55" fill="url(#sb)" opacity="0.17"/>
<rect x="1272.5" y="568.74" width="28.6" height="4.55" fill="url(#sb)" opacity="0.10"/>
<rect x="1215.2" y="573.99" width="30.7" height="4.55" fill="url(#sb)" opacity="0.17"/>
<rect x="1241.8" y="584.49" width="18.4" height="4.55" fill="url(#sb)" opacity="0.17"/>
<rect x="1411.6" y="584.49" width="24.5" height="4.55" fill="url(#sb)" opacity="0.13"/>
<rect x="1169.2" y="589.74" width="46.0" height="4.55" fill="url(#so)" opacity="0.22"/>
<rect x="1344.1" y="589.74" width="40.9" height="4.55" fill="url(#sb)" opacity="0.26"/>
<rect x="1430.0" y="589.74" width="20.5" height="4.55" fill="url(#so)" opacity="0.22"/>
<rect x="1462.8" y="589.74" width="20.5" height="4.55" fill="url(#so)" opacity="0.13"/>
<rect x="1387.1" y="594.98" width="22.5" height="4.55" fill="url(#sb)" opacity="0.05"/>
<rect x="1169.2" y="615.98" width="62.4" height="4.55" fill="url(#sb)" opacity="0.37"/>
<rect x="1231.6" y="615.98" width="14.3" height="4.55" fill="url(#sb)" opacity="0.10"/>
<rect x="1374.8" y="615.98" width="10.2" height="4.55" fill="url(#sb)" opacity="0.10"/>
<rect x="1387.1" y="615.98" width="45.0" height="4.55" fill="url(#sb)" opacity="0.37"/>
<rect x="1442.3" y="615.98" width="8.2" height="4.55" fill="url(#sb)" opacity="0.10"/>
<rect x="1342.1" y="626.48" width="147.9" height="4.55" fill="url(#so)" opacity="0.26"/>
<rect x="1526.8" y="385.04" width="12.3" height="4.55" fill="url(#so)" opacity="0.17"/>
<rect x="1776.4" y="385.04" width="50.1" height="4.55" fill="url(#sb)" opacity="0.42"/>
<rect x="1663.9" y="390.29" width="112.5" height="4.55" fill="url(#sb)" opacity="0.48"/>
<rect x="1694.6" y="390.29" width="20.5" height="4.55" fill="url(#sb)" opacity="0.26"/>
<rect x="1537.1" y="395.53" width="63.4" height="4.55" fill="url(#so)" opacity="0.37"/>
<rect x="1762.1" y="395.53" width="36.8" height="4.55" fill="url(#so)" opacity="0.17"/>
<rect x="1620.9" y="400.78" width="32.7" height="4.55" fill="url(#sb)" opacity="0.42"/>
<rect x="1565.7" y="406.03" width="51.1" height="4.55" fill="url(#sb)" opacity="0.54"/>
<rect x="1578.0" y="411.28" width="55.2" height="4.55" fill="url(#so)" opacity="0.31"/>
<rect x="1721.2" y="406.03" width="26.6" height="4.55" fill="url(#sb)" opacity="0.06"/>
<rect x="1561.6" y="416.53" width="10.2" height="4.55" fill="url(#sb)" opacity="0.13"/>
<rect x="1704.8" y="427.03" width="104.3" height="4.55" fill="url(#so)" opacity="0.60"/>
<rect x="1727.3" y="427.03" width="49.1" height="4.55" fill="url(#so)" opacity="0.37"/>
<rect x="1559.6" y="427.03" width="18.4" height="4.55" fill="url(#so)" opacity="0.10"/>
<rect x="1582.1" y="427.03" width="26.6" height="4.55" fill="url(#so)" opacity="0.22"/>
<rect x="1663.9" y="432.27" width="59.3" height="4.55" fill="url(#so)" opacity="0.60"/>
<rect x="1723.2" y="432.27" width="57.3" height="4.55" fill="url(#so)" opacity="0.17"/>
<rect x="1780.5" y="432.27" width="46.0" height="4.55" fill="url(#so)" opacity="0.48"/>
<rect x="1778.5" y="437.52" width="26.6" height="4.55" fill="url(#sb)" opacity="0.31"/>
<rect x="1680.3" y="442.77" width="92.1" height="4.55" fill="url(#sb)" opacity="0.42"/>
<rect x="1588.2" y="448.02" width="28.6" height="4.55" fill="url(#sb)" opacity="0.17"/>
<rect x="1620.9" y="448.02" width="32.7" height="4.55" fill="url(#sb)" opacity="0.17"/>
<rect x="1753.9" y="448.02" width="36.8" height="4.55" fill="url(#so)" opacity="0.37"/>
<rect x="1661.8" y="453.27" width="40.9" height="4.55" fill="url(#so)" opacity="0.37"/>
<rect x="1633.2" y="458.52" width="12.3" height="4.55" fill="url(#sb)" opacity="0.17"/>
<rect x="1719.1" y="458.52" width="38.9" height="4.55" fill="url(#sb)" opacity="0.31"/>
<rect x="1796.9" y="458.52" width="29.7" height="4.55" fill="url(#so)" opacity="0.42"/>
<rect x="1490.0" y="463.77" width="73.6" height="4.55" fill="url(#so)" opacity="0.42"/>
<rect x="1526.8" y="469.02" width="36.8" height="4.55" fill="url(#so)" opacity="0.13"/>
<rect x="1620.9" y="463.77" width="12.3" height="4.55" fill="url(#so)" opacity="0.10"/>
<rect x="1760.0" y="463.77" width="18.4" height="4.55" fill="url(#so)" opacity="0.13"/>
<rect x="1745.7" y="469.02" width="47.1" height="4.55" fill="url(#sb)" opacity="0.22"/>
<rect x="1778.5" y="474.26" width="22.5" height="4.55" fill="url(#so)" opacity="0.22"/>
<rect x="1649.6" y="474.26" width="32.7" height="4.55" fill="url(#sb)" opacity="0.06"/>
<rect x="1723.2" y="479.51" width="32.7" height="4.55" fill="url(#sb)" opacity="0.06"/>
<rect x="1490.0" y="484.76" width="4.1" height="4.55" fill="url(#so)" opacity="0.26"/>
<rect x="1571.8" y="484.76" width="61.4" height="4.55" fill="url(#so)" opacity="0.37"/>
<rect x="1490.0" y="495.26" width="24.5" height="4.55" fill="url(#so)" opacity="0.17"/>
<rect x="1520.7" y="495.26" width="18.4" height="4.55" fill="url(#so)" opacity="0.17"/>
<rect x="1633.2" y="505.76" width="57.3" height="4.55" fill="url(#so)" opacity="0.42"/>
<rect x="1774.4" y="505.76" width="43.0" height="4.55" fill="url(#sb)" opacity="0.17"/>
<rect x="1490.0" y="521.50" width="214.8" height="4.55" fill="url(#so)" opacity="0.42"/>
<rect x="1596.4" y="521.50" width="20.5" height="4.55" fill="url(#so)" opacity="0.10"/>
<rect x="1704.8" y="521.50" width="12.3" height="4.55" fill="url(#so)" opacity="0.13"/>
<rect x="1596.4" y="526.75" width="20.5" height="4.55" fill="url(#sb)" opacity="0.17"/>
<rect x="1663.9" y="526.75" width="96.2" height="4.55" fill="url(#sb)" opacity="0.37"/>
<rect x="1809.1" y="526.75" width="17.4" height="4.55" fill="url(#so)" opacity="0.22"/>
<rect x="1553.4" y="532.00" width="43.0" height="4.55" fill="url(#so)" opacity="0.22"/>
<rect x="1563.6" y="532.00" width="20.5" height="4.55" fill="url(#so)" opacity="0.17"/>
<rect x="1729.4" y="532.00" width="43.0" height="4.55" fill="url(#sb)" opacity="0.10"/>
<rect x="1776.4" y="537.25" width="50.1" height="4.55" fill="url(#sb)" opacity="0.42"/>
<rect x="1772.3" y="542.50" width="24.5" height="4.55" fill="url(#sb)" opacity="0.17"/>
<rect x="1774.4" y="547.75" width="22.5" height="4.55" fill="url(#so)" opacity="0.17"/>
<rect x="1584.1" y="547.75" width="12.3" height="4.55" fill="url(#sb)" opacity="0.17"/>
<rect x="1620.9" y="547.75" width="12.3" height="4.55" fill="url(#sb)" opacity="0.10"/>
<rect x="1684.4" y="553.00" width="49.1" height="4.55" fill="url(#sb)" opacity="0.06"/>
<rect x="1625.0" y="563.49" width="88.0" height="4.55" fill="url(#sb)" opacity="0.37"/>
<rect x="1588.2" y="568.74" width="28.6" height="4.55" fill="url(#sb)" opacity="0.22"/>
<rect x="1715.0" y="568.74" width="57.3" height="4.55" fill="url(#sb)" opacity="0.26"/>
<rect x="1563.6" y="573.99" width="40.9" height="4.55" fill="url(#so)" opacity="0.17"/>
<rect x="1672.1" y="573.99" width="85.9" height="4.55" fill="url(#so)" opacity="0.66"/>
<rect x="1704.8" y="573.99" width="40.9" height="4.55" fill="url(#so)" opacity="0.86"/>
<rect x="1490.0" y="584.49" width="10.2" height="4.55" fill="url(#so)" opacity="0.26"/>
<rect x="1602.5" y="584.49" width="88.0" height="4.55" fill="url(#sb)" opacity="0.26"/>
<rect x="1639.3" y="584.49" width="51.1" height="4.55" fill="url(#sb)" opacity="0.17"/>
<rect x="1704.8" y="584.49" width="53.2" height="4.55" fill="url(#so)" opacity="0.48"/>
<rect x="1772.3" y="579.24" width="24.5" height="4.55" fill="url(#so)" opacity="0.06"/>
<rect x="1665.9" y="594.98" width="49.1" height="4.55" fill="url(#sb)" opacity="0.06"/>
<rect x="1776.4" y="600.23" width="22.5" height="4.55" fill="url(#so)" opacity="0.17"/>
<rect x="1490.0" y="605.48" width="26.6" height="4.55" fill="url(#so)" opacity="0.13"/>
<rect x="1719.1" y="610.73" width="65.5" height="4.55" fill="url(#so)" opacity="0.31"/>
<rect x="1772.3" y="615.98" width="45.0" height="4.55" fill="url(#sb)" opacity="0.37"/>
<rect x="1569.8" y="615.98" width="38.9" height="4.55" fill="url(#sb)" opacity="0.05"/>
<rect x="1645.5" y="621.23" width="81.8" height="4.55" fill="url(#sb)" opacity="0.37"/>
<rect x="1809.1" y="626.48" width="17.4" height="4.55" fill="url(#so)" opacity="0.17"/>
<rect x="1184.5" y="631.73" width="22.5" height="4.55" fill="url(#sb)" opacity="0.31"/>
<rect x="1405.5" y="631.73" width="61.4" height="4.55" fill="url(#so)" opacity="0.17"/>
<rect x="1184.5" y="636.97" width="57.3" height="4.55" fill="url(#so)" opacity="0.31"/>
<rect x="1254.1" y="636.97" width="28.6" height="4.55" fill="url(#so)" opacity="0.17"/>
<rect x="1354.4" y="642.22" width="28.6" height="4.55" fill="url(#sb)" opacity="0.17"/>
<rect x="1192.7" y="647.47" width="38.9" height="4.55" fill="url(#sb)" opacity="0.17"/>
<rect x="1391.2" y="647.47" width="57.3" height="4.55" fill="url(#so)" opacity="0.26"/>
<rect x="1274.6" y="652.72" width="28.6" height="4.55" fill="url(#sb)" opacity="0.06"/>
<rect x="1276.6" y="657.97" width="22.5" height="4.55" fill="url(#so)" opacity="0.05"/>
<rect x="1374.8" y="668.47" width="49.1" height="4.55" fill="url(#sb)" opacity="0.13"/>
<rect x="1430.0" y="673.72" width="40.9" height="4.55" fill="url(#so)" opacity="0.37"/>
<rect x="1407.5" y="673.72" width="22.5" height="4.55" fill="url(#so)" opacity="0.10"/>
<rect x="1344.1" y="678.96" width="79.8" height="4.55" fill="url(#sb)" opacity="0.17"/>
<rect x="1186.6" y="699.96" width="124.8" height="4.55" fill="url(#so)" opacity="0.42"/>
<rect x="1466.9" y="694.71" width="23.1" height="4.55" fill="url(#sb)" opacity="0.17"/>
<rect x="1231.6" y="710.46" width="30.7" height="4.55" fill="url(#sb)" opacity="0.17"/>
<rect x="1452.6" y="705.21" width="34.8" height="4.55" fill="url(#so)" opacity="0.13"/>
<rect x="1169.2" y="726.20" width="23.5" height="4.55" fill="url(#so)" opacity="0.26"/>
<rect x="1405.5" y="726.20" width="51.1" height="4.55" fill="url(#so)" opacity="0.17"/>
<rect x="1356.4" y="726.20" width="36.8" height="4.55" fill="url(#so)" opacity="0.04"/>
<rect x="1254.1" y="731.45" width="81.8" height="4.55" fill="url(#so)" opacity="0.13"/>
<rect x="1268.4" y="736.70" width="22.5" height="4.55" fill="url(#so)" opacity="0.17"/>
<rect x="1405.5" y="736.70" width="38.9" height="4.55" fill="url(#sb)" opacity="0.26"/>
<rect x="1344.1" y="747.20" width="18.4" height="4.55" fill="url(#so)" opacity="0.17"/>
<rect x="1374.8" y="747.20" width="18.4" height="4.55" fill="url(#so)" opacity="0.13"/>
<rect x="1172.3" y="757.69" width="63.4" height="4.55" fill="url(#sb)" opacity="0.13"/>
<rect x="1344.1" y="757.69" width="22.5" height="4.55" fill="url(#sb)" opacity="0.05"/>
<rect x="1182.5" y="773.44" width="65.5" height="4.55" fill="url(#so)" opacity="0.26"/>
<rect x="1284.8" y="783.94" width="69.6" height="4.55" fill="url(#so)" opacity="0.48"/>
<rect x="1290.9" y="783.94" width="45.0" height="4.55" fill="url(#so)" opacity="0.48"/>
<rect x="1211.1" y="783.94" width="51.1" height="4.55" fill="url(#so)" opacity="0.10"/>
<rect x="1350.3" y="789.19" width="49.1" height="4.55" fill="url(#so)" opacity="0.13"/>
<rect x="1217.3" y="794.44" width="40.9" height="4.55" fill="url(#sb)" opacity="0.05"/>
<rect x="1335.9" y="794.44" width="12.3" height="4.55" fill="url(#sb)" opacity="0.17"/>
<rect x="1466.9" y="794.44" width="23.1" height="4.55" fill="url(#sb)" opacity="0.13"/>
<rect x="1169.2" y="799.68" width="17.4" height="4.55" fill="url(#so)" opacity="0.13"/>
<rect x="1279.7" y="810.18" width="64.4" height="4.55" fill="url(#sb)" opacity="0.22"/>
<rect x="1403.5" y="820.68" width="20.5" height="4.55" fill="url(#so)" opacity="0.10"/>
<rect x="1250.0" y="831.18" width="61.4" height="4.55" fill="url(#sb)" opacity="0.17"/>
<rect x="1280.7" y="836.43" width="30.7" height="4.55" fill="url(#so)" opacity="0.22"/>
<rect x="1460.7" y="836.43" width="26.6" height="4.55" fill="url(#sb)" opacity="0.22"/>
<rect x="1169.2" y="846.92" width="15.3" height="4.55" fill="url(#sb)" opacity="0.13"/>
<rect x="1169.2" y="852.17" width="97.2" height="4.55" fill="url(#so)" opacity="0.17"/>
<rect x="1169.2" y="857.42" width="23.5" height="4.55" fill="url(#so)" opacity="0.22"/>
<rect x="1344.1" y="857.42" width="61.4" height="4.55" fill="url(#so)" opacity="0.17"/>
<rect x="1272.5" y="862.67" width="63.4" height="4.55" fill="url(#sb)" opacity="0.10"/>
<rect x="1299.1" y="867.92" width="49.1" height="4.55" fill="url(#so)" opacity="0.22"/>
<rect x="1475.1" y="867.92" width="14.9" height="4.55" fill="url(#so)" opacity="0.13"/>
<rect x="1335.9" y="873.17" width="30.7" height="4.55" fill="url(#sb)" opacity="0.10"/>
<rect x="1563.6" y="631.73" width="18.4" height="4.55" fill="url(#sb)" opacity="0.10"/>
<rect x="1672.1" y="631.73" width="18.4" height="4.55" fill="url(#so)" opacity="0.10"/>
<rect x="1710.9" y="631.73" width="43.0" height="4.55" fill="url(#sb)" opacity="0.06"/>
<rect x="1811.2" y="631.73" width="15.3" height="4.55" fill="url(#sb)" opacity="0.17"/>
<rect x="1537.1" y="636.97" width="14.3" height="4.55" fill="url(#sb)" opacity="0.22"/>
<rect x="1635.3" y="636.97" width="43.0" height="4.55" fill="url(#sb)" opacity="0.31"/>
<rect x="1694.6" y="642.22" width="71.6" height="4.55" fill="url(#sb)" opacity="0.48"/>
<rect x="1715.0" y="642.22" width="32.7" height="4.55" fill="url(#sb)" opacity="0.37"/>
<rect x="1582.1" y="647.47" width="26.6" height="4.55" fill="url(#so)" opacity="0.37"/>
<rect x="1533.0" y="647.47" width="12.3" height="4.55" fill="url(#sb)" opacity="0.13"/>
<rect x="1729.4" y="647.47" width="34.8" height="4.55" fill="url(#so)" opacity="0.10"/>
<rect x="1672.1" y="652.72" width="55.2" height="4.55" fill="url(#sb)" opacity="0.26"/>
<rect x="1490.0" y="652.72" width="12.3" height="4.55" fill="url(#so)" opacity="0.17"/>
<rect x="1817.3" y="652.72" width="9.2" height="4.55" fill="url(#sb)" opacity="0.13"/>
<rect x="1553.4" y="657.97" width="34.8" height="4.55" fill="url(#sb)" opacity="0.06"/>
<rect x="1721.2" y="663.22" width="104.3" height="4.55" fill="url(#so)" opacity="0.48"/>
<rect x="1733.5" y="663.22" width="53.2" height="4.55" fill="url(#so)" opacity="0.26"/>
<rect x="1690.5" y="668.47" width="26.6" height="4.55" fill="url(#so)" opacity="0.42"/>
<rect x="1571.8" y="668.47" width="18.4" height="4.55" fill="url(#sb)" opacity="0.13"/>
<rect x="1620.9" y="678.96" width="73.6" height="4.55" fill="url(#so)" opacity="0.13"/>
<rect x="1620.9" y="678.96" width="18.4" height="4.55" fill="url(#so)" opacity="0.06"/>
<rect x="1745.7" y="678.96" width="20.5" height="4.55" fill="url(#sb)" opacity="0.10"/>
<rect x="1543.2" y="684.21" width="47.1" height="4.55" fill="url(#so)" opacity="0.22"/>
<rect x="1563.6" y="684.21" width="12.3" height="4.55" fill="url(#so)" opacity="0.17"/>
<rect x="1721.2" y="684.21" width="34.8" height="4.55" fill="url(#so)" opacity="0.17"/>
<rect x="1811.2" y="689.46" width="15.3" height="4.55" fill="url(#sb)" opacity="0.22"/>
<rect x="1494.1" y="694.71" width="26.6" height="4.55" fill="url(#sb)" opacity="0.37"/>
<rect x="1647.5" y="694.71" width="49.1" height="4.55" fill="url(#so)" opacity="0.26"/>
<rect x="1727.3" y="694.71" width="32.7" height="4.55" fill="url(#so)" opacity="0.10"/>
<rect x="1760.0" y="694.71" width="65.5" height="4.55" fill="url(#so)" opacity="0.37"/>
<rect x="1696.6" y="699.96" width="63.4" height="4.55" fill="url(#sb)" opacity="0.17"/>
<rect x="1786.6" y="705.21" width="39.9" height="4.55" fill="url(#so)" opacity="0.26"/>
<rect x="1696.6" y="705.21" width="30.7" height="4.55" fill="url(#sb)" opacity="0.13"/>
<rect x="1727.3" y="710.46" width="57.3" height="4.55" fill="url(#sb)" opacity="0.31"/>
<rect x="1510.5" y="710.46" width="22.5" height="4.55" fill="url(#sb)" opacity="0.05"/>
<rect x="1616.8" y="715.70" width="49.1" height="4.55" fill="url(#so)" opacity="0.42"/>
<rect x="1665.9" y="715.70" width="61.4" height="4.55" fill="url(#so)" opacity="0.13"/>
<rect x="1727.3" y="715.70" width="18.4" height="4.55" fill="url(#so)" opacity="0.31"/>
<rect x="1627.1" y="720.95" width="77.7" height="4.55" fill="url(#sb)" opacity="0.48"/>
<rect x="1663.9" y="720.95" width="30.7" height="4.55" fill="url(#sb)" opacity="0.26"/>
<rect x="1494.1" y="720.95" width="18.4" height="4.55" fill="url(#sb)" opacity="0.06"/>
<rect x="1520.7" y="720.95" width="32.7" height="4.55" fill="url(#sb)" opacity="0.10"/>
<rect x="1600.5" y="720.95" width="8.2" height="4.55" fill="url(#sb)" opacity="0.10"/>
<rect x="1817.3" y="720.95" width="9.2" height="4.55" fill="url(#sb)" opacity="0.13"/>
<rect x="1690.5" y="726.20" width="69.6" height="4.55" fill="url(#so)" opacity="0.37"/>
<rect x="1520.7" y="726.20" width="36.8" height="4.55" fill="url(#so)" opacity="0.17"/>
<rect x="1760.0" y="736.70" width="65.5" height="4.55" fill="url(#so)" opacity="0.54"/>
<rect x="1520.7" y="741.95" width="30.7" height="4.55" fill="url(#so)" opacity="0.42"/>
<rect x="1640.4" y="741.95" width="70.6" height="4.55" fill="url(#so)" opacity="1.00"/>
<rect x="1710.9" y="741.95" width="16.4" height="4.55" fill="url(#so)" opacity="0.37"/>
<rect x="1760.0" y="741.95" width="24.5" height="4.55" fill="url(#so)" opacity="0.42"/>
<rect x="1672.1" y="747.20" width="83.9" height="4.55" fill="url(#so)" opacity="0.42"/>
<rect x="1533.0" y="752.45" width="57.3" height="4.55" fill="url(#sb)" opacity="0.31"/>
<rect x="1596.4" y="757.69" width="20.5" height="4.55" fill="url(#sb)" opacity="0.13"/>
<rect x="1620.9" y="757.69" width="90.0" height="4.55" fill="url(#sb)" opacity="0.17"/>
<rect x="1588.2" y="768.19" width="24.5" height="4.55" fill="url(#so)" opacity="0.10"/>
<rect x="1721.2" y="768.19" width="38.9" height="4.55" fill="url(#so)" opacity="0.31"/>
<rect x="1743.7" y="773.44" width="73.6" height="4.55" fill="url(#sb)" opacity="0.17"/>
<rect x="1575.9" y="778.69" width="40.9" height="4.55" fill="url(#sb)" opacity="0.17"/>
<rect x="1551.4" y="783.94" width="24.5" height="4.55" fill="url(#sb)" opacity="0.10"/>
<rect x="1627.1" y="783.94" width="30.7" height="4.55" fill="url(#sb)" opacity="0.17"/>
<rect x="1651.6" y="789.19" width="32.7" height="4.55" fill="url(#so)" opacity="0.10"/>
<rect x="1490.0" y="794.44" width="20.5" height="4.55" fill="url(#sb)" opacity="0.13"/>
<rect x="1784.6" y="794.44" width="41.9" height="4.55" fill="url(#sb)" opacity="0.54"/>
<rect x="1490.0" y="799.68" width="30.7" height="4.55" fill="url(#so)" opacity="0.22"/>
<rect x="1520.7" y="799.68" width="36.8" height="4.55" fill="url(#so)" opacity="0.37"/>
<rect x="1557.5" y="799.68" width="26.6" height="4.55" fill="url(#so)" opacity="0.22"/>
<rect x="1606.6" y="799.68" width="59.3" height="4.55" fill="url(#so)" opacity="0.31"/>
<rect x="1620.9" y="804.93" width="43.0" height="4.55" fill="url(#so)" opacity="0.22"/>
<rect x="1817.3" y="804.93" width="9.2" height="4.55" fill="url(#sb)" opacity="0.17"/>
<rect x="1633.2" y="810.18" width="61.4" height="4.55" fill="url(#so)" opacity="0.17"/>
<rect x="1762.1" y="810.18" width="47.1" height="4.55" fill="url(#sb)" opacity="0.13"/>
<rect x="1778.5" y="815.43" width="12.3" height="4.55" fill="url(#so)" opacity="0.17"/>
<rect x="1690.5" y="820.68" width="63.4" height="4.55" fill="url(#so)" opacity="0.37"/>
<rect x="1551.4" y="825.93" width="65.5" height="4.55" fill="url(#sb)" opacity="0.37"/>
<rect x="1647.5" y="831.18" width="63.4" height="4.55" fill="url(#sb)" opacity="0.31"/>
<rect x="1796.9" y="825.93" width="20.5" height="4.55" fill="url(#sb)" opacity="0.05"/>
<rect x="1530.9" y="836.43" width="20.5" height="4.55" fill="url(#so)" opacity="0.10"/>
<rect x="1584.1" y="836.43" width="24.5" height="4.55" fill="url(#sb)" opacity="0.22"/>
<rect x="1490.0" y="846.92" width="61.4" height="4.55" fill="url(#sb)" opacity="0.13"/>
<rect x="1514.5" y="852.17" width="36.8" height="4.55" fill="url(#sb)" opacity="0.17"/>
<rect x="1741.6" y="846.92" width="63.4" height="4.55" fill="url(#so)" opacity="0.26"/>
<rect x="1749.8" y="852.17" width="55.2" height="4.55" fill="url(#so)" opacity="0.22"/>
<rect x="1747.8" y="857.42" width="78.8" height="4.55" fill="url(#so)" opacity="0.48"/>
<rect x="1647.5" y="857.42" width="63.4" height="4.55" fill="url(#sb)" opacity="0.42"/>
<rect x="1670.0" y="862.67" width="57.3" height="4.55" fill="url(#sb)" opacity="0.37"/>
<rect x="1490.0" y="867.92" width="16.4" height="4.55" fill="url(#so)" opacity="0.17"/>
<rect x="1537.1" y="867.92" width="14.3" height="4.55" fill="url(#so)" opacity="0.17"/>
<rect x="1520.7" y="873.17" width="18.4" height="4.55" fill="url(#so)" opacity="0.06"/>
<rect x="1721.2" y="878.41" width="38.9" height="4.55" fill="url(#so)" opacity="0.17"/>
<rect x="1290.9" y="888.91" width="20.5" height="4.55" fill="url(#sb)" opacity="0.10"/>
<rect x="1356.4" y="904.66" width="124.8" height="4.55" fill="url(#sb)" opacity="0.17"/>
<rect x="1385.0" y="904.66" width="71.6" height="4.55" fill="url(#sb)" opacity="0.04"/>
<rect x="1290.9" y="909.91" width="20.5" height="4.55" fill="url(#so)" opacity="0.13"/>
<rect x="1241.8" y="909.91" width="6.1" height="4.55" fill="url(#sb)" opacity="0.10"/>
<rect x="1380.9" y="915.16" width="32.7" height="4.55" fill="url(#sb)" opacity="0.17"/>
<rect x="1286.8" y="920.40" width="30.7" height="4.55" fill="url(#so)" opacity="0.10"/>
<rect x="1169.2" y="930.90" width="60.4" height="4.55" fill="url(#sb)" opacity="0.06"/>
<rect x="1335.9" y="930.90" width="8.2" height="4.55" fill="url(#sb)" opacity="0.26"/>
<rect x="1405.5" y="930.90" width="49.1" height="4.55" fill="url(#sb)" opacity="0.31"/>
<rect x="1387.1" y="946.65" width="102.9" height="4.55" fill="url(#so)" opacity="0.31"/>
<rect x="1460.7" y="951.90" width="29.3" height="4.55" fill="url(#sb)" opacity="0.26"/>
<rect x="1354.4" y="967.64" width="65.5" height="4.55" fill="url(#sb)" opacity="0.26"/>
<rect x="1262.3" y="972.89" width="69.6" height="4.55" fill="url(#sb)" opacity="0.37"/>
<rect x="1331.8" y="972.89" width="16.4" height="4.55" fill="url(#sb)" opacity="0.10"/>
<rect x="1399.4" y="972.89" width="30.7" height="4.55" fill="url(#so)" opacity="0.17"/>
<rect x="1215.2" y="978.14" width="34.8" height="4.55" fill="url(#sb)" opacity="0.22"/>
<rect x="1362.5" y="983.39" width="22.5" height="4.55" fill="url(#so)" opacity="0.04"/>
<rect x="1385.0" y="988.64" width="47.1" height="4.55" fill="url(#sb)" opacity="0.13"/>
<rect x="1169.2" y="993.89" width="15.3" height="4.55" fill="url(#so)" opacity="0.10"/>
<rect x="1192.7" y="999.13" width="22.5" height="4.55" fill="url(#so)" opacity="0.13"/>
<rect x="1374.8" y="999.13" width="63.4" height="4.55" fill="url(#sb)" opacity="0.26"/>
<rect x="1280.7" y="1004.38" width="30.7" height="4.55" fill="url(#sb)" opacity="0.06"/>
<rect x="1237.7" y="1009.63" width="24.5" height="4.55" fill="url(#sb)" opacity="0.06"/>
<rect x="1319.6" y="1009.63" width="65.5" height="4.55" fill="url(#sb)" opacity="0.37"/>
<rect x="1340.0" y="1009.63" width="24.5" height="4.55" fill="url(#sb)" opacity="0.22"/>
<rect x="1299.1" y="1025.38" width="12.3" height="4.55" fill="url(#so)" opacity="0.17"/>
<rect x="1327.8" y="1025.38" width="28.6" height="4.55" fill="url(#so)" opacity="0.37"/>
<rect x="1475.1" y="1030.63" width="14.9" height="4.55" fill="url(#so)" opacity="0.26"/>
<rect x="1366.6" y="1030.63" width="18.4" height="4.55" fill="url(#sb)" opacity="0.26"/>
<rect x="1293.0" y="1035.88" width="36.8" height="4.55" fill="url(#sb)" opacity="0.06"/>
<rect x="1362.5" y="1035.88" width="43.0" height="4.55" fill="url(#so)" opacity="0.22"/>
<rect x="1401.4" y="1041.12" width="55.2" height="4.55" fill="url(#sb)" opacity="0.10"/>
<rect x="1471.0" y="1035.88" width="19.0" height="4.55" fill="url(#sb)" opacity="0.17"/>
<rect x="1297.1" y="1046.37" width="20.5" height="4.55" fill="url(#sb)" opacity="0.37"/>
<rect x="1362.5" y="1046.37" width="12.3" height="4.55" fill="url(#so)" opacity="0.17"/>
<rect x="1190.7" y="1046.37" width="8.2" height="4.55" fill="url(#so)" opacity="0.10"/>
<rect x="1471.0" y="1046.37" width="19.0" height="4.55" fill="url(#so)" opacity="0.31"/>
<rect x="1248.0" y="1056.87" width="14.3" height="4.55" fill="url(#so)" opacity="0.06"/>
<rect x="1374.8" y="1062.12" width="49.1" height="4.55" fill="url(#sb)" opacity="0.13"/>
<rect x="1475.1" y="1062.12" width="8.2" height="4.55" fill="url(#so)" opacity="0.13"/>
<rect x="1411.6" y="1072.62" width="36.8" height="4.55" fill="url(#so)" opacity="0.22"/>
<rect x="1254.1" y="1083.11" width="8.2" height="4.55" fill="url(#sb)" opacity="0.22"/>
<rect x="1344.1" y="1088.36" width="85.9" height="4.55" fill="url(#so)" opacity="0.22"/>
<rect x="1368.7" y="1088.36" width="30.7" height="4.55" fill="url(#so)" opacity="0.17"/>
<rect x="1436.2" y="1093.61" width="20.5" height="4.55" fill="url(#so)" opacity="0.17"/>
<rect x="1209.1" y="1098.86" width="59.3" height="4.55" fill="url(#so)" opacity="0.22"/>
<rect x="1299.1" y="1098.86" width="28.6" height="4.55" fill="url(#so)" opacity="0.05"/>
<rect x="1311.4" y="1104.11" width="18.4" height="4.55" fill="url(#so)" opacity="0.26"/>
<rect x="1350.3" y="1104.11" width="22.5" height="4.55" fill="url(#so)" opacity="0.10"/>
<rect x="1417.8" y="1104.11" width="32.7" height="4.55" fill="url(#sb)" opacity="0.17"/>
<rect x="1333.9" y="1109.36" width="16.4" height="4.55" fill="url(#so)" opacity="0.17"/>
<rect x="1393.2" y="1119.86" width="24.5" height="4.55" fill="url(#so)" opacity="0.22"/>
<rect x="1169.2" y="1125.10" width="15.3" height="4.55" fill="url(#so)" opacity="0.22"/>
<rect x="1462.8" y="1130.35" width="27.2" height="4.55" fill="url(#so)" opacity="0.31"/>
<rect x="1215.2" y="1135.60" width="77.7" height="4.55" fill="url(#so)" opacity="0.26"/>
<rect x="1241.8" y="1135.60" width="32.7" height="4.55" fill="url(#so)" opacity="0.17"/>
<rect x="1340.0" y="1135.60" width="65.5" height="4.55" fill="url(#so)" opacity="0.13"/>
<rect x="1727.3" y="883.66" width="57.3" height="4.55" fill="url(#so)" opacity="0.54"/>
<rect x="1684.4" y="888.91" width="43.0" height="4.55" fill="url(#so)" opacity="0.26"/>
<rect x="1694.6" y="894.16" width="32.7" height="4.55" fill="url(#sb)" opacity="0.37"/>
<rect x="1760.0" y="894.16" width="66.5" height="4.55" fill="url(#so)" opacity="0.60"/>
<rect x="1592.3" y="888.91" width="24.5" height="4.55" fill="url(#sb)" opacity="0.06"/>
<rect x="1620.9" y="904.66" width="149.3" height="4.55" fill="url(#so)" opacity="0.54"/>
<rect x="1790.7" y="909.91" width="14.3" height="4.55" fill="url(#sb)" opacity="0.26"/>
<rect x="1708.9" y="920.40" width="18.4" height="4.55" fill="url(#sb)" opacity="0.22"/>
<rect x="1772.3" y="920.40" width="54.2" height="4.55" fill="url(#so)" opacity="0.42"/>
<rect x="1490.0" y="925.65" width="10.2" height="4.55" fill="url(#sb)" opacity="0.06"/>
<rect x="1510.5" y="925.65" width="26.6" height="4.55" fill="url(#sb)" opacity="0.17"/>
<rect x="1557.5" y="925.65" width="83.9" height="4.55" fill="url(#sb)" opacity="0.31"/>
<rect x="1645.5" y="925.65" width="65.5" height="4.55" fill="url(#sb)" opacity="0.26"/>
<rect x="1760.0" y="925.65" width="66.5" height="4.55" fill="url(#so)" opacity="0.26"/>
<rect x="1620.9" y="930.90" width="122.7" height="4.55" fill="url(#sb)" opacity="0.37"/>
<rect x="1678.2" y="930.90" width="49.1" height="4.55" fill="url(#sb)" opacity="0.13"/>
<rect x="1790.7" y="930.90" width="35.8" height="4.55" fill="url(#so)" opacity="0.48"/>
<rect x="1584.1" y="936.15" width="6.1" height="4.55" fill="url(#sb)" opacity="0.06"/>
<rect x="1490.0" y="946.65" width="40.9" height="4.55" fill="url(#so)" opacity="0.26"/>
<rect x="1620.9" y="946.65" width="32.7" height="4.55" fill="url(#sb)" opacity="0.66"/>
<rect x="1653.7" y="946.65" width="40.9" height="4.55" fill="url(#sb)" opacity="0.26"/>
<rect x="1715.0" y="946.65" width="75.7" height="4.55" fill="url(#sb)" opacity="0.48"/>
<rect x="1490.0" y="951.90" width="6.1" height="4.55" fill="url(#sb)" opacity="0.26"/>
<rect x="1682.3" y="951.90" width="53.2" height="4.55" fill="url(#so)" opacity="0.60"/>
<rect x="1601.5" y="957.15" width="9.2" height="4.55" fill="url(#so)" opacity="0.60"/>
<rect x="1735.5" y="957.15" width="40.9" height="4.55" fill="url(#so)" opacity="0.60"/>
<rect x="1737.5" y="962.39" width="63.4" height="4.55" fill="url(#so)" opacity="0.54"/>
<rect x="1690.5" y="962.39" width="45.0" height="4.55" fill="url(#so)" opacity="0.22"/>
<rect x="1805.1" y="972.89" width="21.5" height="4.55" fill="url(#sb)" opacity="0.22"/>
<rect x="1690.5" y="978.14" width="90.0" height="4.55" fill="url(#sb)" opacity="0.54"/>
<rect x="1727.3" y="983.39" width="57.3" height="4.55" fill="url(#sb)" opacity="0.26"/>
<rect x="1616.8" y="988.64" width="43.0" height="4.55" fill="url(#sb)" opacity="0.31"/>
<rect x="1590.2" y="983.39" width="18.4" height="4.55" fill="url(#sb)" opacity="0.04"/>
<rect x="1490.0" y="993.89" width="43.0" height="4.55" fill="url(#so)" opacity="0.22"/>
<rect x="1672.1" y="993.89" width="30.7" height="4.55" fill="url(#so)" opacity="0.22"/>
<rect x="1702.8" y="993.89" width="40.9" height="4.55" fill="url(#so)" opacity="0.48"/>
<rect x="1796.9" y="993.89" width="29.7" height="4.55" fill="url(#sb)" opacity="0.37"/>
<rect x="1645.5" y="1009.63" width="45.0" height="4.55" fill="url(#so)" opacity="0.60"/>
<rect x="1657.8" y="1014.88" width="102.3" height="4.55" fill="url(#sb)" opacity="0.54"/>
<rect x="1494.1" y="1025.38" width="45.0" height="4.55" fill="url(#so)" opacity="0.31"/>
<rect x="1696.6" y="1025.38" width="24.5" height="4.55" fill="url(#so)" opacity="0.13"/>
<rect x="1735.5" y="1025.38" width="63.4" height="4.55" fill="url(#so)" opacity="0.42"/>
<rect x="1798.9" y="1025.38" width="16.4" height="4.55" fill="url(#so)" opacity="0.13"/>
<rect x="1490.0" y="1030.63" width="12.3" height="4.55" fill="url(#so)" opacity="0.22"/>
<rect x="1490.0" y="1035.88" width="30.7" height="4.55" fill="url(#sb)" opacity="0.22"/>
<rect x="1694.6" y="1041.12" width="40.9" height="4.55" fill="url(#so)" opacity="0.26"/>
<rect x="1766.2" y="1041.12" width="60.4" height="4.55" fill="url(#sb)" opacity="0.48"/>
<rect x="1490.0" y="1046.37" width="40.9" height="4.55" fill="url(#so)" opacity="0.26"/>
<rect x="1537.1" y="1046.37" width="20.5" height="4.55" fill="url(#so)" opacity="0.10"/>
<rect x="1784.6" y="1046.37" width="41.9" height="4.55" fill="url(#sb)" opacity="0.17"/>
<rect x="1735.5" y="1051.62" width="12.3" height="4.55" fill="url(#sb)" opacity="0.10"/>
<rect x="1772.3" y="1051.62" width="12.3" height="4.55" fill="url(#so)" opacity="0.17"/>
<rect x="1665.9" y="1056.87" width="30.7" height="4.55" fill="url(#sb)" opacity="0.13"/>
<rect x="1766.2" y="1056.87" width="60.4" height="4.55" fill="url(#so)" opacity="0.42"/>
<rect x="1490.0" y="1062.12" width="16.4" height="4.55" fill="url(#so)" opacity="0.13"/>
<rect x="1584.1" y="1062.12" width="6.1" height="4.55" fill="url(#so)" opacity="0.26"/>
<rect x="1659.8" y="1067.37" width="30.7" height="4.55" fill="url(#sb)" opacity="0.17"/>
<rect x="1760.0" y="1067.37" width="66.5" height="4.55" fill="url(#sb)" opacity="0.17"/>
<rect x="1740.6" y="1072.62" width="56.3" height="4.55" fill="url(#so)" opacity="0.54"/>
<rect x="1721.2" y="1077.87" width="14.3" height="4.55" fill="url(#sb)" opacity="0.10"/>
<rect x="1784.6" y="1077.87" width="41.9" height="4.55" fill="url(#so)" opacity="0.72"/>
<rect x="1584.1" y="1083.11" width="32.7" height="4.55" fill="url(#so)" opacity="0.10"/>
<rect x="1690.5" y="1083.11" width="20.5" height="4.55" fill="url(#so)" opacity="0.22"/>
<rect x="1780.5" y="1083.11" width="46.0" height="4.55" fill="url(#sb)" opacity="0.42"/>
<rect x="1760.0" y="1088.36" width="66.5" height="4.55" fill="url(#so)" opacity="0.17"/>
<rect x="1620.9" y="1093.61" width="20.5" height="4.55" fill="url(#so)" opacity="0.26"/>
<rect x="1490.0" y="1098.86" width="30.7" height="4.55" fill="url(#sb)" opacity="0.10"/>
<rect x="1537.1" y="1098.86" width="16.4" height="4.55" fill="url(#sb)" opacity="0.05"/>
<rect x="1682.3" y="1098.86" width="77.7" height="4.55" fill="url(#sb)" opacity="0.37"/>
<rect x="1557.5" y="1104.11" width="18.4" height="4.55" fill="url(#sb)" opacity="0.17"/>
<rect x="1620.9" y="1109.36" width="53.2" height="4.55" fill="url(#sb)" opacity="0.26"/>
<rect x="1580.0" y="1109.36" width="40.9" height="4.55" fill="url(#sb)" opacity="0.04"/>
<rect x="1674.1" y="1114.61" width="152.4" height="4.55" fill="url(#sb)" opacity="0.79"/>
<rect x="1500.2" y="1119.86" width="77.7" height="4.55" fill="url(#sb)" opacity="0.17"/>
<rect x="1518.6" y="1119.86" width="57.3" height="4.55" fill="url(#sb)" opacity="0.17"/>
<rect x="1760.0" y="1125.10" width="45.0" height="4.55" fill="url(#so)" opacity="0.22"/>
<rect x="1490.0" y="1130.35" width="36.8" height="4.55" fill="url(#so)" opacity="0.22"/>
<rect x="1682.3" y="1130.35" width="126.8" height="4.55" fill="url(#so)" opacity="0.54"/>
<rect x="1339.2" y="558.24" width="17.7" height="4.55" fill="url(#so)" opacity="0.04"/>
<rect x="1709.9" y="909.91" width="17.1" height="4.55" fill="url(#sb)" opacity="0.05"/>
<rect x="1194.5" y="248.57" width="46.1" height="4.55" fill="url(#so)" opacity="0.07"/>
<rect x="1417.7" y="909.91" width="36.8" height="4.55" fill="url(#so)" opacity="0.03"/>
<rect x="1643.4" y="306.31" width="21.5" height="4.55" fill="url(#sb)" opacity="0.11"/>
<rect x="1721.5" y="369.29" width="25.3" height="4.55" fill="url(#sb)" opacity="0.10"/>
<rect x="1654.7" y="883.66" width="52.4" height="4.55" fill="url(#sb)" opacity="0.07"/>
<rect x="1324.8" y="909.91" width="28.7" height="4.55" fill="url(#sb)" opacity="0.08"/>
<rect x="1395.4" y="232.82" width="63.1" height="4.55" fill="url(#so)" opacity="0.05"/>
<rect x="1693.5" y="222.33" width="56.6" height="4.55" fill="url(#sb)" opacity="0.08"/>
<rect x="1202.5" y="180.34" width="45.7" height="4.55" fill="url(#so)" opacity="0.08"/>
<rect x="1425.2" y="584.49" width="46.9" height="4.55" fill="url(#sb)" opacity="0.08"/>
<rect x="1738.5" y="490.01" width="18.3" height="4.55" fill="url(#so)" opacity="0.10"/>
<rect x="1291.7" y="1041.12" width="36.2" height="4.55" fill="url(#so)" opacity="0.03"/>
<rect x="1728.8" y="747.20" width="42.2" height="4.55" fill="url(#sb)" opacity="0.07"/>
<rect x="1688.5" y="1119.86" width="62.9" height="4.55" fill="url(#sb)" opacity="0.08"/>
<rect x="1642.1" y="862.67" width="38.7" height="4.55" fill="url(#so)" opacity="0.10"/>
<rect x="1333.0" y="605.48" width="27.7" height="4.55" fill="url(#sb)" opacity="0.04"/>
<rect x="1705.7" y="1009.63" width="47.4" height="4.55" fill="url(#sb)" opacity="0.04"/>
<rect x="1431.8" y="689.46" width="32.5" height="4.55" fill="url(#sb)" opacity="0.08"/>
<rect x="1487.8" y="957.15" width="40.1" height="4.55" fill="url(#so)" opacity="0.09"/>
<rect x="1338.1" y="1041.12" width="36.9" height="4.55" fill="url(#sb)" opacity="0.07"/>
<rect x="1797.2" y="206.58" width="29.4" height="4.55" fill="url(#sb)" opacity="0.09"/>
<rect x="1644.7" y="264.32" width="20.6" height="4.55" fill="url(#sb)" opacity="0.04"/>
<rect x="1233.0" y="406.03" width="28.9" height="4.55" fill="url(#sb)" opacity="0.05"/>
<rect x="1706.3" y="290.56" width="68.8" height="4.55" fill="url(#sb)" opacity="0.07"/>
<rect x="1679.7" y="316.80" width="29.6" height="4.55" fill="url(#so)" opacity="0.05"/>
<rect x="1791.2" y="154.09" width="34.9" height="4.55" fill="url(#so)" opacity="0.12"/>
<rect x="1734.7" y="836.43" width="20.0" height="4.55" fill="url(#so)" opacity="0.09"/>
<rect x="1657.8" y="348.30" width="44.8" height="4.55" fill="url(#sb)" opacity="0.10"/>
<rect x="1593.5" y="946.65" width="61.9" height="4.55" fill="url(#so)" opacity="0.08"/>
<rect x="1255.2" y="1119.86" width="42.1" height="4.55" fill="url(#so)" opacity="0.09"/>
<rect x="1652.4" y="500.51" width="48.3" height="4.55" fill="url(#sb)" opacity="0.11"/>
<rect x="1580.6" y="1098.86" width="35.1" height="4.55" fill="url(#sb)" opacity="0.04"/>
<rect x="1705.3" y="390.29" width="69.2" height="4.55" fill="url(#so)" opacity="0.04"/>
<rect x="1734.7" y="1004.38" width="60.9" height="4.55" fill="url(#sb)" opacity="0.07"/>
<rect x="1375.0" y="1083.11" width="24.8" height="4.55" fill="url(#so)" opacity="0.05"/>
<rect x="1690.5" y="1093.61" width="67.1" height="4.55" fill="url(#so)" opacity="0.06"/>
<rect x="1725.1" y="295.81" width="40.6" height="4.55" fill="url(#so)" opacity="0.10"/>
<rect x="1452.3" y="925.65" width="34.3" height="4.55" fill="url(#sb)" opacity="0.04"/>
<rect x="1482.1" y="143.60" width="20.7" height="4.55" fill="url(#so)" opacity="0.04"/>
<rect x="1260.0" y="385.04" width="28.9" height="4.55" fill="url(#sb)" opacity="0.04"/>
<rect x="1716.6" y="915.16" width="60.9" height="4.55" fill="url(#sb)" opacity="0.11"/>
<rect x="1520.3" y="741.95" width="43.4" height="4.55" fill="url(#so)" opacity="0.08"/>
<rect x="1394.6" y="301.06" width="16.0" height="4.55" fill="url(#sb)" opacity="0.04"/>
<rect x="1233.6" y="133.10" width="22.8" height="4.55" fill="url(#so)" opacity="0.04"/>
<rect x="1711.9" y="206.58" width="45.5" height="4.55" fill="url(#so)" opacity="0.05"/>
<rect x="1652.0" y="878.41" width="17.3" height="4.55" fill="url(#sb)" opacity="0.08"/>
<rect x="1562.3" y="164.59" width="39.4" height="4.55" fill="url(#so)" opacity="0.06"/>
<rect x="1667.7" y="815.43" width="42.9" height="4.55" fill="url(#so)" opacity="0.09"/>
<rect x="1546.8" y="458.52" width="66.8" height="4.55" fill="url(#sb)" opacity="0.06"/>
<rect x="1228.1" y="395.53" width="21.7" height="4.55" fill="url(#sb)" opacity="0.03"/>
<rect x="1655.9" y="448.02" width="31.7" height="4.55" fill="url(#sb)" opacity="0.11"/>
<rect x="1326.8" y="1088.36" width="28.9" height="4.55" fill="url(#sb)" opacity="0.06"/>
<rect x="1340.6" y="1130.35" width="41.8" height="4.55" fill="url(#so)" opacity="0.08"/>
<rect x="1597.4" y="343.05" width="37.2" height="4.55" fill="url(#sb)" opacity="0.05"/>
<rect x="1177.4" y="248.57" width="45.5" height="4.55" fill="url(#sb)" opacity="0.03"/>
<rect x="1296.3" y="568.74" width="67.8" height="4.55" fill="url(#sb)" opacity="0.09"/>
<rect x="1214.2" y="432.27" width="29.6" height="4.55" fill="url(#sb)" opacity="0.08"/>
<rect x="1522.3" y="490.01" width="61.7" height="4.55" fill="url(#so)" opacity="0.09"/>
<rect x="1785.2" y="668.47" width="41.4" height="4.55" fill="url(#so)" opacity="0.05"/>
<rect x="1248.0" y="201.33" width="64.2" height="4.55" fill="url(#sb)" opacity="0.03"/>
<rect x="1205.1" y="243.32" width="62.1" height="4.55" fill="url(#sb)" opacity="0.08"/>
<rect x="1799.0" y="736.70" width="27.6" height="4.55" fill="url(#so)" opacity="0.10"/>
<rect x="1271.8" y="185.59" width="21.0" height="4.55" fill="url(#sb)" opacity="0.03"/>
<rect x="1440.0" y="395.53" width="44.2" height="4.55" fill="url(#sb)" opacity="0.06"/>
<rect x="1680.5" y="1030.63" width="16.0" height="4.55" fill="url(#sb)" opacity="0.04"/>
<rect x="1590.5" y="1109.36" width="43.3" height="4.55" fill="url(#sb)" opacity="0.06"/>
<rect x="1355.3" y="1009.63" width="42.2" height="4.55" fill="url(#so)" opacity="0.05"/>
<rect x="1656.4" y="804.93" width="27.6" height="4.55" fill="url(#sb)" opacity="0.12"/>
<rect x="1343.4" y="1104.11" width="34.1" height="4.55" fill="url(#sb)" opacity="0.04"/>
<rect x="1548.2" y="222.33" width="38.7" height="4.55" fill="url(#sb)" opacity="0.07"/>
<rect x="1458.0" y="636.97" width="30.5" height="4.55" fill="url(#sb)" opacity="0.05"/>
<rect x="1666.2" y="741.95" width="15.2" height="4.55" fill="url(#sb)" opacity="0.07"/>
<rect x="1623.3" y="862.67" width="63.5" height="4.55" fill="url(#sb)" opacity="0.06"/>
<rect x="1703.9" y="573.99" width="42.7" height="4.55" fill="url(#sb)" opacity="0.09"/>
<rect x="1766.5" y="133.10" width="22.9" height="4.55" fill="url(#so)" opacity="0.08"/>
<rect x="1659.6" y="526.75" width="47.2" height="4.55" fill="url(#sb)" opacity="0.11"/>
<rect x="1506.9" y="1009.63" width="47.8" height="4.55" fill="url(#so)" opacity="0.07"/>
<rect x="1749.5" y="789.19" width="50.4" height="4.55" fill="url(#sb)" opacity="0.12"/>
<rect x="1485.3" y="815.43" width="59.7" height="4.55" fill="url(#sb)" opacity="0.06"/>
<rect x="1519.4" y="804.93" width="15.9" height="4.55" fill="url(#so)" opacity="0.08"/>
<rect x="1467.8" y="1083.11" width="27.6" height="4.55" fill="url(#sb)" opacity="0.04"/>
<rect x="1331.3" y="610.73" width="39.8" height="4.55" fill="url(#sb)" opacity="0.03"/>
<rect x="1379.9" y="841.67" width="15.2" height="4.55" fill="url(#so)" opacity="0.07"/>
<rect x="1208.6" y="799.68" width="43.9" height="4.55" fill="url(#so)" opacity="0.06"/>
<rect x="1270.2" y="227.58" width="56.6" height="4.55" fill="url(#sb)" opacity="0.07"/>
<rect x="1687.0" y="741.95" width="41.3" height="4.55" fill="url(#so)" opacity="0.11"/>
<rect x="1254.5" y="951.90" width="48.0" height="4.55" fill="url(#sb)" opacity="0.07"/>
<rect x="1720.9" y="1056.87" width="15.7" height="4.55" fill="url(#sb)" opacity="0.06"/>
<rect x="1656.8" y="1030.63" width="41.9" height="4.55" fill="url(#so)" opacity="0.07"/>
<rect x="1638.7" y="752.45" width="64.2" height="4.55" fill="url(#sb)" opacity="0.13"/>
<rect x="1701.0" y="762.94" width="60.1" height="4.55" fill="url(#so)" opacity="0.08"/>
<rect x="1784.7" y="484.76" width="41.9" height="4.55" fill="url(#sb)" opacity="0.05"/>
<rect x="1579.6" y="1130.35" width="22.3" height="4.55" fill="url(#so)" opacity="0.06"/>
<rect x="1268.7" y="274.81" width="64.4" height="4.55" fill="url(#sb)" opacity="0.03"/>
<rect x="1462.8" y="127.85" width="37.3" height="4.55" fill="url(#so)" opacity="0.05"/>
<rect x="1770.8" y="631.73" width="15.1" height="4.55" fill="url(#so)" opacity="0.12"/>
<rect x="1253.4" y="285.31" width="15.6" height="4.55" fill="url(#so)" opacity="0.05"/>
<rect x="1799.8" y="211.83" width="26.8" height="4.55" fill="url(#sb)" opacity="0.08"/>
<rect x="1290.0" y="495.26" width="17.8" height="4.55" fill="url(#so)" opacity="0.07"/>
<rect x="1665.6" y="327.30" width="43.1" height="4.55" fill="url(#sb)" opacity="0.07"/>
<rect x="1519.0" y="699.96" width="49.7" height="4.55" fill="url(#so)" opacity="0.09"/>
<rect x="1631.7" y="862.67" width="66.3" height="4.55" fill="url(#sb)" opacity="0.10"/>
<rect x="1292.4" y="311.55" width="17.7" height="4.55" fill="url(#so)" opacity="0.04"/>
<rect x="1668.6" y="757.69" width="29.1" height="4.55" fill="url(#so)" opacity="0.10"/>
<rect x="1298.7" y="668.47" width="45.7" height="4.55" fill="url(#sb)" opacity="0.04"/>
<rect x="1708.6" y="343.05" width="59.7" height="4.55" fill="url(#so)" opacity="0.08"/>
<rect x="1362.9" y="573.99" width="22.7" height="4.55" fill="url(#sb)" opacity="0.04"/>
<rect x="1306.6" y="584.49" width="35.3" height="4.55" fill="url(#so)" opacity="0.04"/>
<rect x="1346.9" y="154.09" width="37.8" height="4.55" fill="url(#sb)" opacity="0.05"/>
<rect x="1383.7" y="579.24" width="46.6" height="4.55" fill="url(#sb)" opacity="0.07"/>
<rect x="1540.9" y="836.43" width="26.9" height="4.55" fill="url(#sb)" opacity="0.04"/>
<rect x="1355.1" y="663.22" width="32.2" height="4.55" fill="url(#so)" opacity="0.09"/>
<rect x="1746.8" y="295.81" width="64.3" height="4.55" fill="url(#sb)" opacity="0.09"/>
<rect x="1787.2" y="127.85" width="39.4" height="4.55" fill="url(#sb)" opacity="0.08"/>
<rect x="1637.0" y="726.20" width="23.5" height="4.55" fill="url(#sb)" opacity="0.10"/>
<rect x="1533.8" y="1093.61" width="64.2" height="4.55" fill="url(#sb)" opacity="0.08"/>
<rect x="1269.2" y="127.85" width="65.6" height="4.55" fill="url(#so)" opacity="0.05"/>
<rect x="1396.7" y="295.81" width="39.1" height="4.55" fill="url(#so)" opacity="0.04"/>
<rect x="1420.2" y="526.75" width="36.3" height="4.55" fill="url(#sb)" opacity="0.07"/>
<rect x="1598.4" y="138.35" width="30.3" height="4.55" fill="url(#sb)" opacity="0.08"/>
<rect x="1660.0" y="453.27" width="28.6" height="4.55" fill="url(#so)" opacity="0.10"/>
<rect x="1652.5" y="537.25" width="63.7" height="4.55" fill="url(#so)" opacity="0.05"/>
<rect x="1567.7" y="432.27" width="27.5" height="4.55" fill="url(#sb)" opacity="0.05"/>
<rect x="1689.5" y="689.46" width="15.4" height="4.55" fill="url(#sb)" opacity="0.12"/>
<rect x="1794.5" y="217.08" width="32.1" height="4.55" fill="url(#so)" opacity="0.06"/>
<rect x="1779.7" y="421.78" width="21.0" height="4.55" fill="url(#so)" opacity="0.09"/>
<rect x="1783.6" y="427.03" width="18.1" height="4.55" fill="url(#so)" opacity="0.12"/>
<rect x="1795.3" y="196.08" width="22.8" height="4.55" fill="url(#sb)" opacity="0.05"/>
<rect x="1747.3" y="652.72" width="32.3" height="4.55" fill="url(#sb)" opacity="0.05"/>
<rect x="1650.9" y="348.30" width="66.5" height="4.55" fill="url(#so)" opacity="0.04"/>
<rect x="1530.7" y="1020.13" width="69.2" height="4.55" fill="url(#sb)" opacity="0.04"/>
<rect x="1681.3" y="232.82" width="67.6" height="4.55" fill="url(#sb)" opacity="0.13"/>
<rect x="1757.7" y="406.03" width="32.0" height="4.55" fill="url(#so)" opacity="0.05"/>
<rect x="1685.2" y="1072.62" width="65.6" height="4.55" fill="url(#sb)" opacity="0.07"/>
<rect x="1692.2" y="762.94" width="59.7" height="4.55" fill="url(#so)" opacity="0.04"/>
<rect x="1764.0" y="169.84" width="18.4" height="4.55" fill="url(#sb)" opacity="0.05"/>
<rect x="1666.8" y="941.40" width="67.7" height="4.55" fill="url(#so)" opacity="0.06"/>
<rect x="1567.3" y="1088.36" width="31.4" height="4.55" fill="url(#so)" opacity="0.07"/>
<rect x="1197.2" y="978.14" width="60.4" height="4.55" fill="url(#sb)" opacity="0.07"/>
<rect x="1335.6" y="752.45" width="28.8" height="4.55" fill="url(#sb)" opacity="0.06"/>
<rect x="1763.9" y="794.44" width="55.6" height="4.55" fill="url(#so)" opacity="0.11"/>
<rect x="1774.6" y="941.40" width="40.3" height="4.55" fill="url(#so)" opacity="0.09"/>
<rect x="1754.8" y="815.43" width="28.6" height="4.55" fill="url(#sb)" opacity="0.04"/>
<rect x="1238.3" y="867.92" width="38.5" height="4.55" fill="url(#sb)" opacity="0.03"/>
<rect x="1634.6" y="962.39" width="42.4" height="4.55" fill="url(#so)" opacity="0.08"/>
<rect x="1701.3" y="437.52" width="64.0" height="4.55" fill="url(#sb)" opacity="0.09"/>
<rect x="1505.1" y="1020.13" width="31.2" height="4.55" fill="url(#sb)" opacity="0.05"/>
<rect x="1254.9" y="469.02" width="28.6" height="4.55" fill="url(#sb)" opacity="0.04"/>
<rect x="1628.9" y="904.66" width="28.8" height="4.55" fill="url(#sb)" opacity="0.09"/>
<rect x="1450.6" y="999.13" width="69.5" height="4.55" fill="url(#sb)" opacity="0.06"/>
<rect x="1563.1" y="437.52" width="17.2" height="4.55" fill="url(#sb)" opacity="0.04"/>
<rect x="1525.8" y="379.79" width="25.7" height="4.55" fill="url(#sb)" opacity="0.06"/>
<rect x="1664.6" y="364.04" width="57.8" height="4.55" fill="url(#so)" opacity="0.05"/>
<rect x="1319.7" y="925.65" width="17.1" height="4.55" fill="url(#sb)" opacity="0.03"/>
<rect x="1751.0" y="469.02" width="65.3" height="4.55" fill="url(#so)" opacity="0.11"/>
<rect x="1248.8" y="673.72" width="32.2" height="4.55" fill="url(#sb)" opacity="0.08"/>
<rect x="1691.7" y="862.67" width="58.8" height="4.55" fill="url(#so)" opacity="0.05"/>
<rect x="1647.0" y="841.67" width="53.2" height="4.55" fill="url(#sb)" opacity="0.07"/>
<rect x="1626.4" y="537.25" width="56.0" height="4.55" fill="url(#so)" opacity="0.08"/>
<rect x="1598.5" y="148.84" width="35.0" height="4.55" fill="url(#sb)" opacity="0.07"/>
<rect x="1356.1" y="400.78" width="23.6" height="4.55" fill="url(#sb)" opacity="0.04"/>
<rect x="1367.7" y="899.41" width="23.9" height="4.55" fill="url(#sb)" opacity="0.06"/>
<rect x="1340.0" y="988.64" width="46.5" height="4.55" fill="url(#so)" opacity="0.07"/>
<rect x="1668.8" y="353.54" width="43.7" height="4.55" fill="url(#so)" opacity="0.05"/>
<rect x="1510.4" y="783.94" width="59.3" height="4.55" fill="url(#sb)" opacity="0.08"/>
<rect x="1377.1" y="185.59" width="17.9" height="4.55" fill="url(#so)" opacity="0.05"/>
<rect x="1524.4" y="1083.11" width="23.8" height="4.55" fill="url(#so)" opacity="0.04"/>
<rect x="1253.5" y="668.47" width="41.0" height="4.55" fill="url(#so)" opacity="0.03"/>
<rect x="1682.7" y="820.68" width="23.2" height="4.55" fill="url(#so)" opacity="0.11"/>
<rect x="1719.9" y="385.04" width="56.7" height="4.55" fill="url(#sb)" opacity="0.12"/>
<rect x="1700.4" y="285.31" width="61.7" height="4.55" fill="url(#so)" opacity="0.10"/>
<rect x="1352.5" y="537.25" width="51.2" height="4.55" fill="url(#sb)" opacity="0.06"/>
<rect x="1797.5" y="154.09" width="29.1" height="4.55" fill="url(#sb)" opacity="0.10"/>
<rect x="1518.3" y="741.95" width="37.0" height="4.55" fill="url(#sb)" opacity="0.05"/>
<rect x="1697.9" y="615.98" width="43.1" height="4.55" fill="url(#sb)" opacity="0.10"/>
<rect x="1304.2" y="238.07" width="54.6" height="4.55" fill="url(#sb)" opacity="0.08"/>
<rect x="1507.0" y="631.73" width="16.4" height="4.55" fill="url(#sb)" opacity="0.07"/>
<rect x="1252.5" y="1056.87" width="69.0" height="4.55" fill="url(#sb)" opacity="0.09"/>
<rect x="1479.8" y="348.30" width="27.2" height="4.55" fill="url(#so)" opacity="0.07"/>
<rect x="1781.1" y="463.77" width="30.1" height="4.55" fill="url(#so)" opacity="0.05"/>
<rect x="1375.9" y="799.68" width="47.6" height="4.55" fill="url(#so)" opacity="0.04"/>
<rect x="1650.3" y="626.48" width="23.9" height="4.55" fill="url(#so)" opacity="0.10"/>
<rect x="1760.6" y="631.73" width="21.3" height="4.55" fill="url(#sb)" opacity="0.10"/>
<rect x="1364.3" y="610.73" width="43.7" height="4.55" fill="url(#so)" opacity="0.08"/>
<rect x="1440.4" y="463.77" width="36.7" height="4.55" fill="url(#so)" opacity="0.05"/>
<rect x="1324.3" y="621.23" width="57.1" height="4.55" fill="url(#sb)" opacity="0.04"/>
<rect x="1296.7" y="1125.10" width="43.4" height="4.55" fill="url(#sb)" opacity="0.09"/>
<rect x="1555.1" y="909.91" width="55.3" height="4.55" fill="url(#so)" opacity="0.04"/>
<rect x="1355.3" y="516.25" width="43.2" height="4.55" fill="url(#so)" opacity="0.04"/>
<rect x="1188.6" y="432.27" width="18.0" height="4.55" fill="url(#so)" opacity="0.05"/>
<rect x="1658.0" y="825.93" width="47.1" height="4.55" fill="url(#so)" opacity="0.06"/>
<rect x="1237.4" y="962.39" width="15.8" height="4.55" fill="url(#so)" opacity="0.07"/>
<rect x="1733.8" y="731.45" width="62.9" height="4.55" fill="url(#so)" opacity="0.08"/>
<rect x="1193.2" y="479.51" width="60.1" height="4.55" fill="url(#so)" opacity="0.07"/>
<rect x="1788.5" y="904.66" width="38.1" height="4.55" fill="url(#sb)" opacity="0.12"/>
<rect x="1621.6" y="185.59" width="25.2" height="4.55" fill="url(#sb)" opacity="0.12"/>
<rect x="1717.8" y="264.32" width="66.8" height="4.55" fill="url(#sb)" opacity="0.06"/>
<rect x="1448.1" y="941.40" width="37.8" height="4.55" fill="url(#so)" opacity="0.06"/>
<rect x="1625.9" y="211.83" width="63.9" height="4.55" fill="url(#so)" opacity="0.10"/>
<rect x="1696.9" y="133.10" width="65.2" height="4.55" fill="url(#sb)" opacity="0.10"/>
<rect x="1636.3" y="358.79" width="27.8" height="4.55" fill="url(#sb)" opacity="0.07"/>
<rect x="1575.4" y="1130.35" width="29.5" height="4.55" fill="url(#sb)" opacity="0.07"/>
<rect x="1761.3" y="1035.88" width="43.8" height="4.55" fill="url(#sb)" opacity="0.10"/>
<rect x="1709.9" y="416.53" width="24.3" height="4.55" fill="url(#so)" opacity="0.12"/>
<rect x="1490.6" y="395.53" width="33.0" height="4.55" fill="url(#so)" opacity="0.05"/>
<rect x="1772.9" y="448.02" width="53.7" height="4.55" fill="url(#so)" opacity="0.12"/>
<rect x="1770.7" y="846.92" width="53.4" height="4.55" fill="url(#so)" opacity="0.08"/>
<rect x="1778.9" y="1098.86" width="47.7" height="4.55" fill="url(#sb)" opacity="0.09"/>
<rect x="1231.3" y="883.66" width="16.5" height="4.55" fill="url(#sb)" opacity="0.09"/>
<rect x="1471.0" y="589.74" width="16.7" height="4.55" fill="url(#sb)" opacity="0.07"/>
<rect x="1486.6" y="180.34" width="18.6" height="4.55" fill="url(#so)" opacity="0.05"/>
<rect x="1197.4" y="841.67" width="62.7" height="4.55" fill="url(#so)" opacity="0.09"/>
<rect x="1654.2" y="269.57" width="16.9" height="4.55" fill="url(#so)" opacity="0.12"/>
<rect x="1524.6" y="1135.60" width="49.7" height="4.55" fill="url(#sb)" opacity="0.04"/>
<rect x="1447.6" y="259.07" width="31.2" height="4.55" fill="url(#sb)" opacity="0.05"/>
<rect x="1668.7" y="594.98" width="54.4" height="4.55" fill="url(#sb)" opacity="0.07"/>
<rect x="1535.9" y="936.15" width="49.0" height="4.55" fill="url(#sb)" opacity="0.05"/>
<rect x="1211.4" y="710.46" width="40.8" height="4.55" fill="url(#sb)" opacity="0.06"/>
<rect x="1208.2" y="1083.11" width="60.1" height="4.55" fill="url(#sb)" opacity="0.03"/>
<rect x="1754.3" y="395.53" width="18.0" height="4.55" fill="url(#sb)" opacity="0.05"/>
<rect x="1248.5" y="1056.87" width="42.2" height="4.55" fill="url(#sb)" opacity="0.08"/>
<rect x="1237.5" y="474.26" width="59.8" height="4.55" fill="url(#so)" opacity="0.04"/>
<rect x="1733.5" y="348.30" width="19.4" height="4.55" fill="url(#so)" opacity="0.10"/>
<rect x="1322.3" y="264.32" width="37.1" height="4.55" fill="url(#sb)" opacity="0.08"/>
<rect x="1735.2" y="243.32" width="35.5" height="4.55" fill="url(#sb)" opacity="0.08"/>
<rect x="1332.5" y="857.42" width="63.6" height="4.55" fill="url(#sb)" opacity="0.06"/>
<rect x="1466.1" y="841.67" width="48.3" height="4.55" fill="url(#sb)" opacity="0.06"/>
<rect x="1771.3" y="825.93" width="51.4" height="4.55" fill="url(#so)" opacity="0.06"/>
<rect x="1279.9" y="715.70" width="27.7" height="4.55" fill="url(#sb)" opacity="0.07"/>
<rect x="1652.1" y="1062.12" width="31.6" height="4.55" fill="url(#so)" opacity="0.12"/>
<rect x="1589.1" y="332.55" width="54.8" height="4.55" fill="url(#so)" opacity="0.05"/>
<rect x="1651.6" y="442.77" width="68.6" height="4.55" fill="url(#so)" opacity="0.05"/>
<rect x="1687.3" y="1009.63" width="69.1" height="4.55" fill="url(#so)" opacity="0.11"/>
<rect x="1637.0" y="710.46" width="65.1" height="4.55" fill="url(#sb)" opacity="0.12"/>
<rect x="1690.0" y="747.20" width="58.5" height="4.55" fill="url(#so)" opacity="0.09"/>
<rect x="1621.0" y="972.89" width="29.1" height="4.55" fill="url(#so)" opacity="0.04"/>
<rect x="1354.3" y="453.27" width="46.6" height="4.55" fill="url(#so)" opacity="0.06"/>
<rect x="1450.2" y="432.27" width="63.3" height="4.55" fill="url(#so)" opacity="0.07"/>
<rect x="1445.5" y="432.27" width="40.0" height="4.55" fill="url(#sb)" opacity="0.07"/>
<rect x="1273.5" y="259.07" width="37.0" height="4.55" fill="url(#so)" opacity="0.04"/>
<rect x="1620.6" y="694.71" width="62.2" height="4.55" fill="url(#sb)" opacity="0.10"/>
<rect x="1310.4" y="369.29" width="15.6" height="4.55" fill="url(#so)" opacity="0.08"/>
<rect x="1716.4" y="269.57" width="23.8" height="4.55" fill="url(#so)" opacity="0.12"/>
<rect x="1772.0" y="820.68" width="40.1" height="4.55" fill="url(#sb)" opacity="0.08"/>
<rect x="1526.3" y="148.84" width="43.7" height="4.55" fill="url(#sb)" opacity="0.09"/>
<rect x="1248.2" y="406.03" width="43.3" height="4.55" fill="url(#so)" opacity="0.07"/>
<rect x="1627.4" y="951.90" width="30.1" height="4.55" fill="url(#sb)" opacity="0.04"/>
<rect x="1439.9" y="689.46" width="52.1" height="4.55" fill="url(#so)" opacity="0.04"/>
<rect x="1574.1" y="532.00" width="44.0" height="4.55" fill="url(#sb)" opacity="0.08"/>
<rect x="1647.1" y="652.72" width="66.1" height="4.55" fill="url(#sb)" opacity="0.11"/>
<rect x="1719.9" y="385.04" width="27.4" height="4.55" fill="url(#so)" opacity="0.07"/>
<rect x="1511.8" y="983.39" width="37.7" height="4.55" fill="url(#so)" opacity="0.08"/>
<rect x="1769.6" y="999.13" width="34.5" height="4.55" fill="url(#so)" opacity="0.06"/>
<rect x="1592.6" y="631.73" width="52.3" height="4.55" fill="url(#sb)" opacity="0.08"/>
<rect x="1736.8" y="500.51" width="32.6" height="4.55" fill="url(#sb)" opacity="0.10"/>
<rect x="1325.2" y="238.07" width="66.1" height="4.55" fill="url(#so)" opacity="0.03"/>
<rect x="1506.9" y="883.66" width="22.7" height="4.55" fill="url(#so)" opacity="0.07"/>
<rect x="1259.4" y="143.60" width="19.0" height="4.55" fill="url(#sb)" opacity="0.07"/>
<rect x="1659.8" y="904.66" width="57.7" height="4.55" fill="url(#sb)" opacity="0.05"/>
<rect x="1241.4" y="668.47" width="64.0" height="4.55" fill="url(#so)" opacity="0.08"/>
<rect x="1405.4" y="1025.38" width="50.0" height="4.55" fill="url(#sb)" opacity="0.06"/>
<rect x="1488.8" y="411.28" width="39.1" height="4.55" fill="url(#so)" opacity="0.06"/>
<rect x="1768.4" y="479.51" width="41.0" height="4.55" fill="url(#so)" opacity="0.08"/>
<rect x="1275.3" y="316.80" width="24.1" height="4.55" fill="url(#so)" opacity="0.07"/>
<rect x="1370.7" y="343.05" width="45.9" height="4.55" fill="url(#so)" opacity="0.08"/>
<rect x="1800.0" y="626.48" width="26.6" height="4.55" fill="url(#sb)" opacity="0.07"/>
<rect x="1728.6" y="993.89" width="52.5" height="4.55" fill="url(#so)" opacity="0.07"/>
<rect x="1377.9" y="253.82" width="64.4" height="4.55" fill="url(#sb)" opacity="0.07"/>
<rect x="1634.3" y="967.64" width="51.2" height="4.55" fill="url(#sb)" opacity="0.11"/>
<rect x="1259.8" y="867.92" width="38.9" height="4.55" fill="url(#sb)" opacity="0.06"/>
<rect x="1768.5" y="516.25" width="37.2" height="4.55" fill="url(#sb)" opacity="0.06"/>
<rect x="1654.2" y="804.93" width="42.1" height="4.55" fill="url(#sb)" opacity="0.06"/>
<rect x="1724.3" y="1083.11" width="49.9" height="4.55" fill="url(#so)" opacity="0.04"/>
<rect x="1344.0" y="1098.86" width="46.6" height="4.55" fill="url(#sb)" opacity="0.04"/>
<rect x="1785.6" y="185.59" width="41.0" height="4.55" fill="url(#so)" opacity="0.11"/>
<rect x="1434.8" y="857.42" width="49.5" height="4.55" fill="url(#so)" opacity="0.07"/>
<rect x="1624.2" y="1041.12" width="49.8" height="4.55" fill="url(#so)" opacity="0.06"/>
<rect x="1623.8" y="1014.88" width="57.6" height="4.55" fill="url(#so)" opacity="0.10"/>
<rect x="1228.8" y="621.23" width="32.0" height="4.55" fill="url(#so)" opacity="0.08"/>
<rect x="1675.3" y="374.54" width="38.7" height="4.55" fill="url(#so)" opacity="0.12"/>
<rect x="1712.6" y="196.08" width="60.4" height="4.55" fill="url(#so)" opacity="0.08"/>
<rect x="1361.4" y="1062.12" width="15.8" height="4.55" fill="url(#sb)" opacity="0.07"/>
<rect x="1373.9" y="1009.63" width="37.7" height="4.55" fill="url(#sb)" opacity="0.07"/>
<rect x="1439.2" y="411.28" width="38.5" height="4.55" fill="url(#sb)" opacity="0.07"/>
<rect x="1639.2" y="243.32" width="41.0" height="4.55" fill="url(#sb)" opacity="0.09"/>
<rect x="1249.8" y="731.45" width="17.8" height="4.55" fill="url(#so)" opacity="0.07"/>
<rect x="1205.3" y="322.05" width="49.6" height="4.55" fill="url(#so)" opacity="0.06"/>
<rect x="1191.7" y="469.02" width="16.8" height="4.55" fill="url(#sb)" opacity="0.08"/>
<rect x="1203.3" y="1046.37" width="32.1" height="4.55" fill="url(#so)" opacity="0.04"/>
<rect x="1305.3" y="778.69" width="67.2" height="4.55" fill="url(#so)" opacity="0.06"/>
<rect x="1762.9" y="348.30" width="35.0" height="4.55" fill="url(#so)" opacity="0.10"/>
<rect x="1759.4" y="684.21" width="39.9" height="4.55" fill="url(#sb)" opacity="0.11"/>
<rect x="1628.1" y="573.99" width="68.6" height="4.55" fill="url(#so)" opacity="0.11"/>
<rect x="1481.8" y="573.99" width="15.9" height="4.55" fill="url(#sb)" opacity="0.08"/>
<rect x="1779.5" y="909.91" width="35.7" height="4.55" fill="url(#so)" opacity="0.09"/>
<rect x="1291.1" y="437.52" width="15.1" height="4.55" fill="url(#sb)" opacity="0.06"/>
<rect x="1498.0" y="915.16" width="58.1" height="4.55" fill="url(#sb)" opacity="0.04"/>
<rect x="1795.5" y="894.16" width="31.1" height="4.55" fill="url(#sb)" opacity="0.11"/>
<rect x="1632.6" y="794.44" width="45.5" height="4.55" fill="url(#so)" opacity="0.06"/>
<rect x="1592.4" y="1135.60" width="32.0" height="4.55" fill="url(#sb)" opacity="0.05"/>
<rect x="1663.6" y="1077.87" width="56.3" height="4.55" fill="url(#so)" opacity="0.08"/>
<rect x="1322.1" y="243.32" width="18.4" height="4.55" fill="url(#sb)" opacity="0.06"/>
<rect x="1393.9" y="474.26" width="41.2" height="4.55" fill="url(#so)" opacity="0.04"/>
<rect x="1764.5" y="385.04" width="30.9" height="4.55" fill="url(#so)" opacity="0.07"/>
<rect x="1275.2" y="820.68" width="65.7" height="4.55" fill="url(#sb)" opacity="0.08"/>
<rect x="1508.3" y="626.48" width="23.6" height="4.55" fill="url(#so)" opacity="0.05"/>
<rect x="1209.6" y="820.68" width="26.3" height="4.55" fill="url(#so)" opacity="0.06"/>
<rect x="1281.7" y="915.16" width="57.9" height="4.55" fill="url(#sb)" opacity="0.09"/>
<rect x="1584.3" y="920.40" width="29.0" height="4.55" fill="url(#sb)" opacity="0.04"/>
<rect x="1622.0" y="369.29" width="16.9" height="4.55" fill="url(#sb)" opacity="0.10"/>
<rect x="1561.2" y="778.69" width="18.5" height="4.55" fill="url(#so)" opacity="0.05"/>
<rect x="1207.8" y="285.31" width="32.5" height="4.55" fill="url(#sb)" opacity="0.04"/>
<rect x="1247.7" y="1025.38" width="61.7" height="4.55" fill="url(#sb)" opacity="0.04"/>
<rect x="1624.1" y="1093.61" width="29.1" height="4.55" fill="url(#sb)" opacity="0.12"/>
<rect x="1189.3" y="164.59" width="58.3" height="4.55" fill="url(#so)" opacity="0.07"/>
<rect x="1643.5" y="773.44" width="56.5" height="4.55" fill="url(#so)" opacity="0.10"/>
<rect x="1359.2" y="526.75" width="50.9" height="4.55" fill="url(#sb)" opacity="0.05"/>
<rect x="1705.1" y="647.47" width="24.3" height="4.55" fill="url(#sb)" opacity="0.05"/>
<rect x="1370.7" y="1035.88" width="65.2" height="4.55" fill="url(#so)" opacity="0.04"/>
<rect x="1730.2" y="421.78" width="35.5" height="4.55" fill="url(#so)" opacity="0.11"/>
<rect x="1335.0" y="253.82" width="16.2" height="4.55" fill="url(#sb)" opacity="0.09"/>
<rect x="1374.8" y="558.24" width="49.6" height="4.55" fill="url(#sb)" opacity="0.04"/>
<rect x="1699.6" y="201.33" width="63.9" height="4.55" fill="url(#sb)" opacity="0.05"/>
<rect x="1645.5" y="689.46" width="29.9" height="4.55" fill="url(#so)" opacity="0.07"/>
<rect x="1637.0" y="348.30" width="40.1" height="4.55" fill="url(#sb)" opacity="0.05"/>
<rect x="1780.8" y="815.43" width="45.8" height="4.55" fill="url(#sb)" opacity="0.08"/>
<rect x="1755.1" y="511.01" width="68.4" height="4.55" fill="url(#sb)" opacity="0.06"/>
<rect x="1211.1" y="448.02" width="30.9" height="4.55" fill="url(#so)" opacity="0.03"/>
</g>
<path d="M1169,127.5L1826.6,1140.5" stroke="#5a5048" stroke-width="0.9" opacity="0.85"/>
<path d="M1207,127.5V1140.5" stroke="#fff" stroke-width="1.6"/>
<path d="M1459,127.5V1140.5" stroke="#fff" stroke-width="1.6"/>
<path d="M1617,127.5V1140.5" stroke="#fff" stroke-width="1.6"/>
<g stroke="#222" stroke-width="2.2" fill="none">
<path d="M1158,129.4H1169"/><path d="M1158,649.5H1169"/><path d="M1158,1137.8H1169"/>
<path d="M1169,1140.6H1826.6"/>
<path d="M1238.6,1140.5V1151.5"/>
<path d="M1365.1,1140.5V1151.5"/>
<path d="M1491.5,1140.5V1151.5"/>
<path d="M1617.9,1140.5V1151.5"/>
<path d="M1744.3,1140.5V1151.5"/>
</g>
<text class="t g" x="1087.5" y="145">1</text>
<text class="t g" x="1047.5" y="665.5">100</text>
<text class="t g" x="1046" y="1154">193</text>
<text class="t g" x="1193" y="1203.3">-1.5</text>
<text class="t g" x="1334.5" y="1203.3">-1</text>
<text class="t g" x="1446" y="1203.3">-0.5</text>
<text class="t g" x="1596.3" y="1203.3">0</text>
<text class="t g" x="1706.3" y="1203.3">0.5</text>
<text class="t g" x="1174" y="1255.3">Time from stimulus onset (s)</text>
<text class="t g" transform="translate(1038,767.5) rotate(-90)">SC neurons</text>
<text class="t" x="1276" y="111">cue</text>
<text class="t" x="1461" y="111">delay</text>
<text class="t" x="1640" y="111">choice</text>
<text class="t g" x="1829" y="80.3">Light d’</text>
<defs>
<linearGradient id="gb" x1="0" y1="0" x2="0" y2="1"><stop offset="0" stop-color="#2a70ff"/><stop offset="1" stop-color="#000"/></linearGradient>
<linearGradient id="go" x1="0" y1="0" x2="0" y2="1"><stop offset="0" stop-color="#000"/><stop offset="1" stop-color="#fe8027"/></linearGradient>
<clipPath id="cbclip"><rect x="1866" y="128" width="115" height="1010.5"/></clipPath>
</defs>
<rect x="1866" y="128" width="115" height="1010.5" fill="#000"/>
<rect x="1866" y="128" width="115" height="392" fill="url(#gb)"/>
<rect x="1866" y="748" width="115" height="390.5" fill="url(#go)"/>
<g clip-path="url(#cbclip)" stroke="#fff" stroke-width="6" stroke-dasharray="24.8 11.8" fill="none"><path d="M1860.8,515H1990"/><path d="M1860.8,752H1990"/></g>
<rect x="1864.6" y="126.9" width="117.5" height="1012.7" fill="none" stroke="#222" stroke-width="3.8"/>
<g stroke="#222" stroke-width="3.4" fill="none">
<path d="M1983,127.9H2000.5"/>
<path d="M1983,380.5H2000.5"/>
<path d="M1983,633.4H2000.5"/>
<path d="M1983,886H2000.5"/>
<path d="M1983,1139.1H2000.5"/>
</g>
<text class="t" x="1880" y="643.5" fill="#fff">n.s.</text>
<text class="t g" x="2018" y="144">≥1</text>
<text class="t g" x="2019" y="397.2">0.5</text>
<text class="t g" x="2018" y="650">0</text>
<text class="t g" x="2018" y="904">-0.5</text>
<text class="t g" x="2018.5" y="1154.6">≤-1</text>
<circle cx="1868.4" cy="1150" r="1.3" fill="#222"/>
</g>
</svg></body></html>
